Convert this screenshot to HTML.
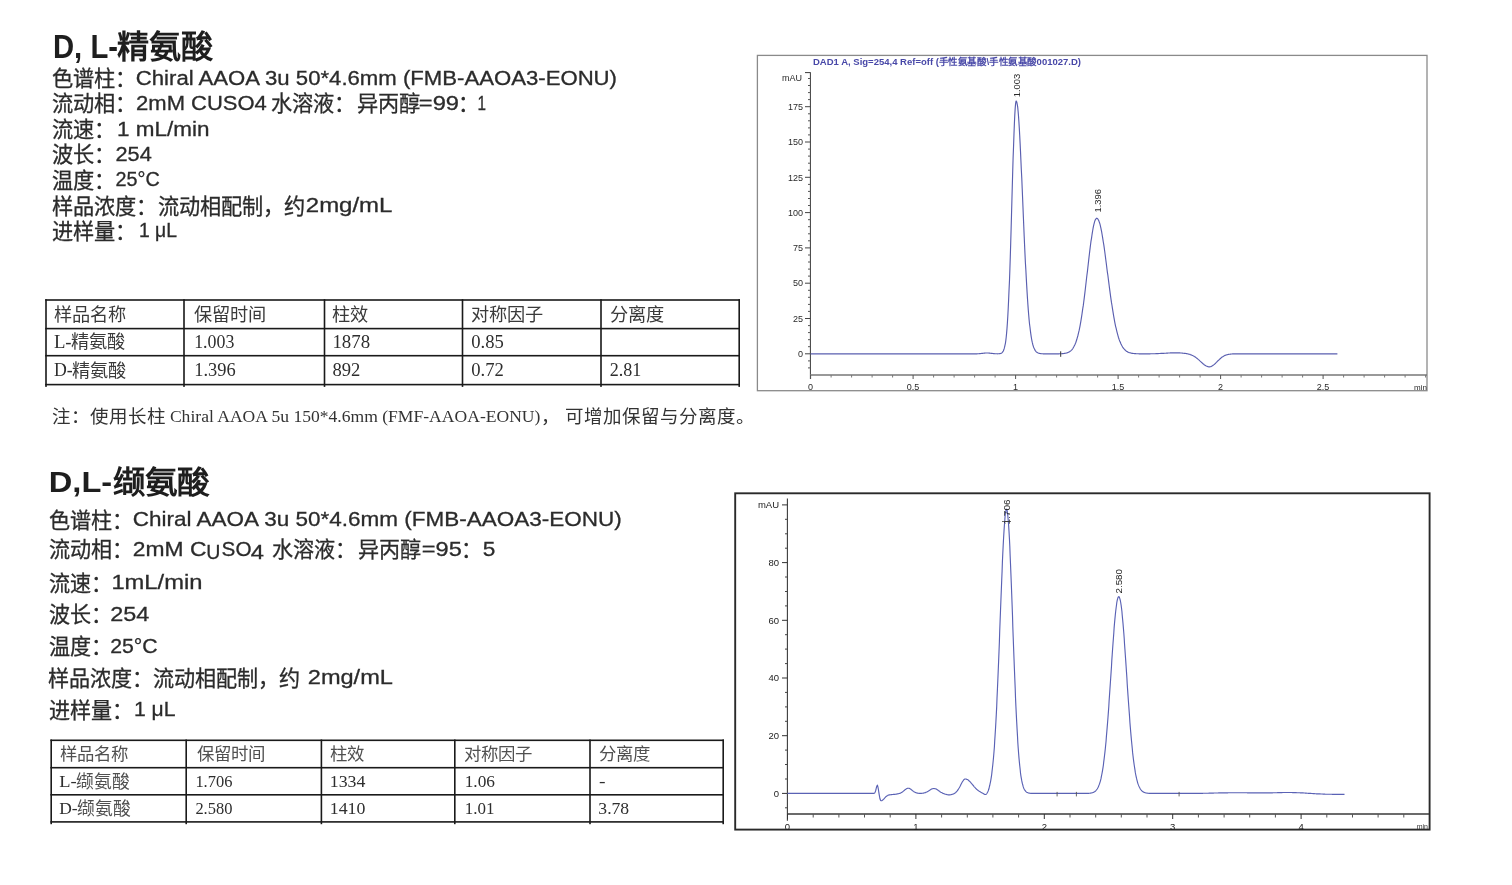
<!DOCTYPE html>
<html lang="zh-CN"><head><meta charset="utf-8">
<style>
html,body{margin:0;padding:0;background:#fff;}
body{width:1512px;height:885px;position:relative;overflow:hidden;}
svg{position:absolute;left:0;top:0;filter:blur(0.35px);}
</style></head><body>
<svg width="1512" height="885" viewBox="0 0 1512 885">
<rect x="757.4" y="55.4" width="669.6" height="335.3" fill="none" stroke="#8a8a8a" stroke-width="1.3"/>
<text x="813" y="65" font-size="9" font-weight="bold" fill="#4848a8" font-family="Liberation Sans" textLength="268" lengthAdjust="spacingAndGlyphs">DAD1 A, Sig=254,4 Ref=off (手性氨基酸\手性氨基酸001027.D)</text>
<line x1="810.4" y1="72.3" x2="810.4" y2="379" stroke="#3a3a3a" stroke-width="1"/>
<line x1="805" y1="72.6" x2="810.4" y2="72.6" stroke="#3a3a3a" stroke-width="1"/>
<line x1="810" y1="375" x2="1427" y2="375" stroke="#777" stroke-width="1.4"/>
<line x1="808" y1="367.9" x2="810.4" y2="367.9" stroke="#555" stroke-width="1"/>
<line x1="808" y1="360.9" x2="810.4" y2="360.9" stroke="#555" stroke-width="1"/>
<line x1="805" y1="353.8" x2="810.4" y2="353.8" stroke="#444" stroke-width="1"/>
<text x="803" y="357.0" font-size="9" fill="#2a2a2a" text-anchor="end" font-family="Liberation Sans">0</text>
<line x1="808" y1="346.7" x2="810.4" y2="346.7" stroke="#555" stroke-width="1"/>
<line x1="808" y1="339.7" x2="810.4" y2="339.7" stroke="#555" stroke-width="1"/>
<line x1="808" y1="332.6" x2="810.4" y2="332.6" stroke="#555" stroke-width="1"/>
<line x1="808" y1="325.6" x2="810.4" y2="325.6" stroke="#555" stroke-width="1"/>
<line x1="805" y1="318.5" x2="810.4" y2="318.5" stroke="#444" stroke-width="1"/>
<text x="803" y="321.7" font-size="9" fill="#2a2a2a" text-anchor="end" font-family="Liberation Sans">25</text>
<line x1="808" y1="311.4" x2="810.4" y2="311.4" stroke="#555" stroke-width="1"/>
<line x1="808" y1="304.4" x2="810.4" y2="304.4" stroke="#555" stroke-width="1"/>
<line x1="808" y1="297.3" x2="810.4" y2="297.3" stroke="#555" stroke-width="1"/>
<line x1="808" y1="290.3" x2="810.4" y2="290.3" stroke="#555" stroke-width="1"/>
<line x1="805" y1="283.2" x2="810.4" y2="283.2" stroke="#444" stroke-width="1"/>
<text x="803" y="286.4" font-size="9" fill="#2a2a2a" text-anchor="end" font-family="Liberation Sans">50</text>
<line x1="808" y1="276.1" x2="810.4" y2="276.1" stroke="#555" stroke-width="1"/>
<line x1="808" y1="269.1" x2="810.4" y2="269.1" stroke="#555" stroke-width="1"/>
<line x1="808" y1="262.0" x2="810.4" y2="262.0" stroke="#555" stroke-width="1"/>
<line x1="808" y1="255.0" x2="810.4" y2="255.0" stroke="#555" stroke-width="1"/>
<line x1="805" y1="247.9" x2="810.4" y2="247.9" stroke="#444" stroke-width="1"/>
<text x="803" y="251.1" font-size="9" fill="#2a2a2a" text-anchor="end" font-family="Liberation Sans">75</text>
<line x1="808" y1="240.8" x2="810.4" y2="240.8" stroke="#555" stroke-width="1"/>
<line x1="808" y1="233.8" x2="810.4" y2="233.8" stroke="#555" stroke-width="1"/>
<line x1="808" y1="226.7" x2="810.4" y2="226.7" stroke="#555" stroke-width="1"/>
<line x1="808" y1="219.7" x2="810.4" y2="219.7" stroke="#555" stroke-width="1"/>
<line x1="805" y1="212.6" x2="810.4" y2="212.6" stroke="#444" stroke-width="1"/>
<text x="803" y="215.8" font-size="9" fill="#2a2a2a" text-anchor="end" font-family="Liberation Sans">100</text>
<line x1="808" y1="205.5" x2="810.4" y2="205.5" stroke="#555" stroke-width="1"/>
<line x1="808" y1="198.5" x2="810.4" y2="198.5" stroke="#555" stroke-width="1"/>
<line x1="808" y1="191.4" x2="810.4" y2="191.4" stroke="#555" stroke-width="1"/>
<line x1="808" y1="184.4" x2="810.4" y2="184.4" stroke="#555" stroke-width="1"/>
<line x1="805" y1="177.3" x2="810.4" y2="177.3" stroke="#444" stroke-width="1"/>
<text x="803" y="180.5" font-size="9" fill="#2a2a2a" text-anchor="end" font-family="Liberation Sans">125</text>
<line x1="808" y1="170.2" x2="810.4" y2="170.2" stroke="#555" stroke-width="1"/>
<line x1="808" y1="163.2" x2="810.4" y2="163.2" stroke="#555" stroke-width="1"/>
<line x1="808" y1="156.1" x2="810.4" y2="156.1" stroke="#555" stroke-width="1"/>
<line x1="808" y1="149.1" x2="810.4" y2="149.1" stroke="#555" stroke-width="1"/>
<line x1="805" y1="142.0" x2="810.4" y2="142.0" stroke="#444" stroke-width="1"/>
<text x="803" y="145.2" font-size="9" fill="#2a2a2a" text-anchor="end" font-family="Liberation Sans">150</text>
<line x1="808" y1="134.9" x2="810.4" y2="134.9" stroke="#555" stroke-width="1"/>
<line x1="808" y1="127.9" x2="810.4" y2="127.9" stroke="#555" stroke-width="1"/>
<line x1="808" y1="120.8" x2="810.4" y2="120.8" stroke="#555" stroke-width="1"/>
<line x1="808" y1="113.8" x2="810.4" y2="113.8" stroke="#555" stroke-width="1"/>
<line x1="805" y1="106.7" x2="810.4" y2="106.7" stroke="#444" stroke-width="1"/>
<text x="803" y="109.9" font-size="9" fill="#2a2a2a" text-anchor="end" font-family="Liberation Sans">175</text>
<line x1="808" y1="99.6" x2="810.4" y2="99.6" stroke="#555" stroke-width="1"/>
<line x1="808" y1="92.6" x2="810.4" y2="92.6" stroke="#555" stroke-width="1"/>
<line x1="808" y1="85.5" x2="810.4" y2="85.5" stroke="#555" stroke-width="1"/>
<line x1="808" y1="78.5" x2="810.4" y2="78.5" stroke="#555" stroke-width="1"/>
<text x="802" y="81" font-size="9" fill="#2a2a2a" text-anchor="end" font-family="Liberation Sans">mAU</text>
<line x1="810.6" y1="375" x2="810.6" y2="379" stroke="#555" stroke-width="1"/>
<text x="810.6" y="389.5" font-size="9" fill="#2a2a2a" text-anchor="middle" font-family="Liberation Sans">0</text>
<line x1="831.1" y1="375" x2="831.1" y2="377.5" stroke="#777" stroke-width="1"/>
<line x1="851.6" y1="375" x2="851.6" y2="377.5" stroke="#777" stroke-width="1"/>
<line x1="872.1" y1="375" x2="872.1" y2="377.5" stroke="#777" stroke-width="1"/>
<line x1="892.6" y1="375" x2="892.6" y2="377.5" stroke="#777" stroke-width="1"/>
<line x1="913.1" y1="375" x2="913.1" y2="379" stroke="#555" stroke-width="1"/>
<text x="913.1" y="389.5" font-size="9" fill="#2a2a2a" text-anchor="middle" font-family="Liberation Sans">0.5</text>
<line x1="933.6" y1="375" x2="933.6" y2="377.5" stroke="#777" stroke-width="1"/>
<line x1="954.1" y1="375" x2="954.1" y2="377.5" stroke="#777" stroke-width="1"/>
<line x1="974.6" y1="375" x2="974.6" y2="377.5" stroke="#777" stroke-width="1"/>
<line x1="995.1" y1="375" x2="995.1" y2="377.5" stroke="#777" stroke-width="1"/>
<line x1="1015.6" y1="375" x2="1015.6" y2="379" stroke="#555" stroke-width="1"/>
<text x="1015.6" y="389.5" font-size="9" fill="#2a2a2a" text-anchor="middle" font-family="Liberation Sans">1</text>
<line x1="1036.1" y1="375" x2="1036.1" y2="377.5" stroke="#777" stroke-width="1"/>
<line x1="1056.6" y1="375" x2="1056.6" y2="377.5" stroke="#777" stroke-width="1"/>
<line x1="1077.1" y1="375" x2="1077.1" y2="377.5" stroke="#777" stroke-width="1"/>
<line x1="1097.6" y1="375" x2="1097.6" y2="377.5" stroke="#777" stroke-width="1"/>
<line x1="1118.1" y1="375" x2="1118.1" y2="379" stroke="#555" stroke-width="1"/>
<text x="1118.1" y="389.5" font-size="9" fill="#2a2a2a" text-anchor="middle" font-family="Liberation Sans">1.5</text>
<line x1="1138.6" y1="375" x2="1138.6" y2="377.5" stroke="#777" stroke-width="1"/>
<line x1="1159.1" y1="375" x2="1159.1" y2="377.5" stroke="#777" stroke-width="1"/>
<line x1="1179.6" y1="375" x2="1179.6" y2="377.5" stroke="#777" stroke-width="1"/>
<line x1="1200.1" y1="375" x2="1200.1" y2="377.5" stroke="#777" stroke-width="1"/>
<line x1="1220.6" y1="375" x2="1220.6" y2="379" stroke="#555" stroke-width="1"/>
<text x="1220.6" y="389.5" font-size="9" fill="#2a2a2a" text-anchor="middle" font-family="Liberation Sans">2</text>
<line x1="1241.1" y1="375" x2="1241.1" y2="377.5" stroke="#777" stroke-width="1"/>
<line x1="1261.6" y1="375" x2="1261.6" y2="377.5" stroke="#777" stroke-width="1"/>
<line x1="1282.1" y1="375" x2="1282.1" y2="377.5" stroke="#777" stroke-width="1"/>
<line x1="1302.6" y1="375" x2="1302.6" y2="377.5" stroke="#777" stroke-width="1"/>
<line x1="1323.1" y1="375" x2="1323.1" y2="379" stroke="#555" stroke-width="1"/>
<text x="1323.1" y="389.5" font-size="9" fill="#2a2a2a" text-anchor="middle" font-family="Liberation Sans">2.5</text>
<line x1="1343.6" y1="375" x2="1343.6" y2="377.5" stroke="#777" stroke-width="1"/>
<line x1="1364.1" y1="375" x2="1364.1" y2="377.5" stroke="#777" stroke-width="1"/>
<line x1="1384.6" y1="375" x2="1384.6" y2="377.5" stroke="#777" stroke-width="1"/>
<line x1="1405.1" y1="375" x2="1405.1" y2="377.5" stroke="#777" stroke-width="1"/>
<line x1="1425.6" y1="375" x2="1425.6" y2="377.5" stroke="#777" stroke-width="1"/>
<text x="1427" y="389.5" font-size="8" fill="#2a2a2a" text-anchor="end" font-family="Liberation Sans">min</text>
<path d="M810.6,353.8 L811.0,353.8 L811.4,353.8 L811.8,353.8 L812.2,353.8 L812.6,353.8 L813.1,353.8 L813.5,353.8 L813.9,353.8 L814.3,353.8 L814.7,353.8 L815.1,353.8 L815.5,353.8 L815.9,353.8 L816.3,353.8 L816.8,353.8 L817.2,353.8 L817.6,353.8 L818.0,353.8 L818.4,353.8 L818.8,353.8 L819.2,353.8 L819.6,353.8 L820.0,353.8 L820.4,353.8 L820.9,353.8 L821.3,353.8 L821.7,353.8 L822.1,353.8 L822.5,353.8 L822.9,353.8 L823.3,353.8 L823.7,353.8 L824.1,353.8 L824.5,353.8 L825.0,353.8 L825.4,353.8 L825.8,353.8 L826.2,353.8 L826.6,353.8 L827.0,353.8 L827.4,353.8 L827.8,353.8 L828.2,353.8 L828.6,353.8 L829.1,353.8 L829.5,353.8 L829.9,353.8 L830.3,353.8 L830.7,353.8 L831.1,353.8 L831.5,353.8 L831.9,353.8 L832.3,353.8 L832.7,353.8 L833.2,353.8 L833.6,353.8 L834.0,353.8 L834.4,353.8 L834.8,353.8 L835.2,353.8 L835.6,353.8 L836.0,353.8 L836.4,353.8 L836.8,353.8 L837.2,353.8 L837.7,353.8 L838.1,353.8 L838.5,353.8 L838.9,353.8 L839.3,353.8 L839.7,353.8 L840.1,353.8 L840.5,353.8 L840.9,353.8 L841.4,353.8 L841.8,353.8 L842.2,353.8 L842.6,353.8 L843.0,353.8 L843.4,353.8 L843.8,353.8 L844.2,353.8 L844.6,353.8 L845.0,353.8 L845.5,353.8 L845.9,353.8 L846.3,353.8 L846.7,353.8 L847.1,353.8 L847.5,353.8 L847.9,353.8 L848.3,353.8 L848.7,353.8 L849.1,353.8 L849.6,353.8 L850.0,353.8 L850.4,353.8 L850.8,353.8 L851.2,353.8 L851.6,353.8 L852.0,353.8 L852.4,353.8 L852.8,353.8 L853.2,353.8 L853.7,353.8 L854.1,353.8 L854.5,353.8 L854.9,353.8 L855.3,353.8 L855.7,353.8 L856.1,353.8 L856.5,353.8 L856.9,353.8 L857.3,353.8 L857.8,353.8 L858.2,353.8 L858.6,353.8 L859.0,353.8 L859.4,353.8 L859.8,353.8 L860.2,353.8 L860.6,353.8 L861.0,353.8 L861.4,353.8 L861.9,353.8 L862.3,353.8 L862.7,353.8 L863.1,353.8 L863.5,353.8 L863.9,353.8 L864.3,353.8 L864.7,353.8 L865.1,353.8 L865.5,353.8 L866.0,353.8 L866.4,353.8 L866.8,353.8 L867.2,353.8 L867.6,353.8 L868.0,353.8 L868.4,353.8 L868.8,353.8 L869.2,353.8 L869.6,353.8 L870.1,353.8 L870.5,353.8 L870.9,353.8 L871.3,353.8 L871.7,353.8 L872.1,353.8 L872.5,353.8 L872.9,353.8 L873.3,353.8 L873.7,353.8 L874.2,353.8 L874.6,353.8 L875.0,353.8 L875.4,353.8 L875.8,353.8 L876.2,353.8 L876.6,353.8 L877.0,353.8 L877.4,353.8 L877.8,353.8 L878.3,353.8 L878.7,353.8 L879.1,353.8 L879.5,353.8 L879.9,353.8 L880.3,353.8 L880.7,353.8 L881.1,353.8 L881.5,353.8 L881.9,353.8 L882.4,353.8 L882.8,353.8 L883.2,353.8 L883.6,353.8 L884.0,353.8 L884.4,353.8 L884.8,353.8 L885.2,353.8 L885.6,353.8 L886.0,353.8 L886.5,353.8 L886.9,353.8 L887.3,353.8 L887.7,353.8 L888.1,353.8 L888.5,353.8 L888.9,353.8 L889.3,353.8 L889.7,353.8 L890.1,353.8 L890.6,353.8 L891.0,353.8 L891.4,353.8 L891.8,353.8 L892.2,353.8 L892.6,353.8 L893.0,353.8 L893.4,353.8 L893.8,353.8 L894.2,353.8 L894.7,353.8 L895.1,353.8 L895.5,353.8 L895.9,353.8 L896.3,353.8 L896.7,353.8 L897.1,353.8 L897.5,353.8 L897.9,353.8 L898.3,353.8 L898.8,353.8 L899.2,353.8 L899.6,353.8 L900.0,353.8 L900.4,353.8 L900.8,353.8 L901.2,353.8 L901.6,353.8 L902.0,353.8 L902.4,353.8 L902.9,353.8 L903.3,353.8 L903.7,353.8 L904.1,353.8 L904.5,353.8 L904.9,353.8 L905.3,353.8 L905.7,353.8 L906.1,353.8 L906.5,353.8 L907.0,353.8 L907.4,353.8 L907.8,353.8 L908.2,353.8 L908.6,353.8 L909.0,353.8 L909.4,353.8 L909.8,353.8 L910.2,353.8 L910.6,353.8 L911.1,353.8 L911.5,353.8 L911.9,353.8 L912.3,353.8 L912.7,353.8 L913.1,353.8 L913.5,353.8 L913.9,353.8 L914.3,353.8 L914.7,353.8 L915.2,353.8 L915.6,353.8 L916.0,353.8 L916.4,353.8 L916.8,353.8 L917.2,353.8 L917.6,353.8 L918.0,353.8 L918.4,353.8 L918.8,353.8 L919.3,353.8 L919.7,353.8 L920.1,353.8 L920.5,353.8 L920.9,353.8 L921.3,353.8 L921.7,353.8 L922.1,353.8 L922.5,353.8 L922.9,353.8 L923.4,353.8 L923.8,353.8 L924.2,353.8 L924.6,353.8 L925.0,353.8 L925.4,353.8 L925.8,353.8 L926.2,353.8 L926.6,353.8 L927.0,353.8 L927.5,353.8 L927.9,353.8 L928.3,353.8 L928.7,353.8 L929.1,353.8 L929.5,353.8 L929.9,353.8 L930.3,353.8 L930.7,353.8 L931.1,353.8 L931.6,353.8 L932.0,353.8 L932.4,353.8 L932.8,353.8 L933.2,353.8 L933.6,353.8 L934.0,353.8 L934.4,353.8 L934.8,353.8 L935.2,353.8 L935.7,353.8 L936.1,353.8 L936.5,353.8 L936.9,353.8 L937.3,353.8 L937.7,353.8 L938.1,353.8 L938.5,353.8 L938.9,353.8 L939.3,353.8 L939.8,353.8 L940.2,353.8 L940.6,353.8 L941.0,353.8 L941.4,353.8 L941.8,353.8 L942.2,353.8 L942.6,353.8 L943.0,353.8 L943.4,353.8 L943.9,353.8 L944.3,353.8 L944.7,353.8 L945.1,353.8 L945.5,353.8 L945.9,353.8 L946.3,353.8 L946.7,353.8 L947.1,353.8 L947.5,353.8 L948.0,353.8 L948.4,353.8 L948.8,353.8 L949.2,353.8 L949.6,353.8 L950.0,353.8 L950.4,353.8 L950.8,353.8 L951.2,353.8 L951.6,353.8 L952.1,353.8 L952.5,353.8 L952.9,353.8 L953.3,353.8 L953.7,353.8 L954.1,353.8 L954.5,353.8 L954.9,353.8 L955.3,353.8 L955.7,353.8 L956.2,353.8 L956.6,353.8 L957.0,353.8 L957.4,353.8 L957.8,353.8 L958.2,353.8 L958.6,353.8 L959.0,353.8 L959.4,353.8 L959.8,353.8 L960.3,353.8 L960.7,353.8 L961.1,353.8 L961.5,353.8 L961.9,353.8 L962.3,353.8 L962.7,353.8 L963.1,353.8 L963.5,353.8 L963.9,353.8 L964.4,353.8 L964.8,353.8 L965.2,353.8 L965.6,353.8 L966.0,353.8 L966.4,353.8 L966.8,353.8 L967.2,353.8 L967.6,353.8 L968.0,353.8 L968.5,353.8 L968.9,353.8 L969.3,353.8 L969.7,353.8 L970.1,353.8 L970.5,353.8 L970.9,353.8 L971.3,353.8 L971.7,353.8 L972.1,353.8 L972.6,353.8 L973.0,353.8 L973.4,353.8 L973.8,353.8 L974.2,353.8 L974.6,353.8 L975.0,353.8 L975.4,353.8 L975.8,353.8 L976.2,353.8 L976.7,353.8 L977.1,353.8 L977.5,353.7 L977.9,353.7 L978.3,353.7 L978.7,353.7 L979.1,353.7 L979.5,353.6 L979.9,353.6 L980.3,353.6 L980.8,353.5 L981.2,353.5 L981.6,353.4 L982.0,353.4 L982.4,353.3 L982.8,353.3 L983.2,353.2 L983.6,353.2 L984.0,353.1 L984.4,353.1 L984.9,353.1 L985.3,353.0 L985.7,353.0 L986.1,353.0 L986.5,353.0 L986.9,353.0 L987.3,353.0 L987.7,353.0 L988.1,353.0 L988.5,353.0 L989.0,353.1 L989.4,353.1 L989.8,353.1 L990.2,353.2 L990.6,353.2 L991.0,353.3 L991.4,353.3 L991.8,353.4 L992.2,353.4 L992.6,353.5 L993.1,353.5 L993.5,353.6 L993.9,353.6 L994.3,353.6 L994.7,353.7 L995.1,353.7 L995.5,353.7 L995.9,353.7 L996.3,353.7 L996.7,353.7 L997.2,353.7 L997.6,353.8 L998.0,353.7 L998.4,353.7 L998.8,353.7 L999.2,353.7 L999.6,353.6 L1000.0,353.6 L1000.4,353.5 L1000.8,353.4 L1001.3,353.2 L1001.7,353.0 L1002.1,352.7 L1002.5,352.2 L1002.9,351.7 L1003.3,351.0 L1003.7,350.1 L1004.1,348.9 L1004.5,347.4 L1004.9,345.6 L1005.4,343.3 L1005.8,340.6 L1006.2,337.2 L1006.6,333.1 L1007.0,328.4 L1007.4,322.7 L1007.8,316.2 L1008.2,308.7 L1008.6,300.3 L1009.0,290.8 L1009.5,280.3 L1009.9,268.8 L1010.3,256.4 L1010.7,243.2 L1011.1,229.4 L1011.5,215.1 L1011.9,200.5 L1012.3,185.9 L1012.7,171.7 L1013.1,158.0 L1013.6,145.1 L1014.0,133.5 L1014.4,123.2 L1014.8,114.7 L1015.2,108.1 L1015.6,103.6 L1016.0,101.3 L1016.4,101.2 L1016.8,102.2 L1017.2,104.2 L1017.7,107.2 L1018.1,111.2 L1018.5,116.0 L1018.9,121.7 L1019.3,128.1 L1019.7,135.3 L1020.1,143.1 L1020.5,151.4 L1020.9,160.2 L1021.3,169.3 L1021.8,178.8 L1022.2,188.4 L1022.6,198.1 L1023.0,207.8 L1023.4,217.5 L1023.8,227.0 L1024.2,236.4 L1024.6,245.5 L1025.0,254.2 L1025.4,262.7 L1025.9,270.8 L1026.3,278.4 L1026.7,285.6 L1027.1,292.4 L1027.5,298.8 L1027.9,304.6 L1028.3,310.1 L1028.7,315.0 L1029.1,319.6 L1029.5,323.7 L1030.0,327.5 L1030.4,330.9 L1030.8,333.9 L1031.2,336.6 L1031.6,339.0 L1032.0,341.1 L1032.4,342.9 L1032.8,344.5 L1033.2,345.9 L1033.6,347.2 L1034.1,348.2 L1034.5,349.1 L1034.9,349.9 L1035.3,350.6 L1035.7,351.1 L1036.1,351.6 L1036.5,352.0 L1036.9,352.3 L1037.3,352.6 L1037.7,352.8 L1038.2,353.0 L1038.6,353.2 L1039.0,353.3 L1039.4,353.4 L1039.8,353.5 L1040.2,353.5 L1040.6,353.6 L1041.0,353.6 L1041.4,353.7 L1041.8,353.7 L1042.3,353.7 L1042.7,353.7 L1043.1,353.8 L1043.5,353.8 L1043.9,353.8 L1044.3,353.8 L1044.7,353.8 L1045.1,353.8 L1045.5,353.8 L1045.9,353.8 L1046.4,353.8 L1046.8,353.8 L1047.2,353.8 L1047.6,353.8 L1048.0,353.8 L1048.4,353.8 L1048.8,353.8 L1049.2,353.8 L1049.6,353.8 L1050.0,353.8 L1050.5,353.8 L1050.9,353.8 L1051.3,353.8 L1051.7,353.8 L1052.1,353.8 L1052.5,353.8 L1052.9,353.8 L1053.3,353.8 L1053.7,353.8 L1054.1,353.8 L1054.6,353.8 L1055.0,353.8 L1055.4,353.8 L1055.8,353.8 L1056.2,353.8 L1056.6,353.8 L1057.0,353.8 L1057.4,353.8 L1057.8,353.8 L1058.2,353.8 L1058.7,353.8 L1059.1,353.8 L1059.5,353.7 L1059.9,353.7 L1060.3,353.7 L1060.7,353.7 L1061.1,353.7 L1061.5,353.7 L1061.9,353.7 L1062.3,353.6 L1062.8,353.6 L1063.2,353.6 L1063.6,353.5 L1064.0,353.5 L1064.4,353.4 L1064.8,353.4 L1065.2,353.3 L1065.6,353.2 L1066.0,353.1 L1066.4,353.0 L1066.9,352.9 L1067.3,352.8 L1067.7,352.6 L1068.1,352.5 L1068.5,352.3 L1068.9,352.1 L1069.3,351.9 L1069.7,351.6 L1070.1,351.3 L1070.5,351.0 L1071.0,350.6 L1071.4,350.2 L1071.8,349.8 L1072.2,349.3 L1072.6,348.8 L1073.0,348.2 L1073.4,347.5 L1073.8,346.8 L1074.2,346.0 L1074.6,345.2 L1075.1,344.3 L1075.5,343.3 L1075.9,342.2 L1076.3,341.0 L1076.7,339.8 L1077.1,338.4 L1077.5,337.0 L1077.9,335.5 L1078.3,333.8 L1078.7,332.1 L1079.2,330.2 L1079.6,328.2 L1080.0,326.1 L1080.4,323.9 L1080.8,321.6 L1081.2,319.2 L1081.6,316.6 L1082.0,314.0 L1082.4,311.2 L1082.8,308.3 L1083.3,305.4 L1083.7,302.3 L1084.1,299.1 L1084.5,295.9 L1084.9,292.6 L1085.3,289.2 L1085.7,285.7 L1086.1,282.2 L1086.5,278.7 L1086.9,275.2 L1087.4,271.6 L1087.8,268.0 L1088.2,264.5 L1088.6,260.9 L1089.0,257.4 L1089.4,254.0 L1089.8,250.6 L1090.2,247.4 L1090.6,244.2 L1091.0,241.2 L1091.5,238.3 L1091.9,235.5 L1092.3,232.9 L1092.7,230.5 L1093.1,228.2 L1093.5,226.2 L1093.9,224.4 L1094.3,222.8 L1094.7,221.4 L1095.1,220.3 L1095.6,219.4 L1096.0,218.8 L1096.4,218.4 L1096.8,218.2 L1097.2,218.4 L1097.6,218.7 L1098.0,219.2 L1098.4,219.9 L1098.8,220.8 L1099.2,221.9 L1099.7,223.2 L1100.1,224.6 L1100.5,226.3 L1100.9,228.1 L1101.3,230.1 L1101.7,232.2 L1102.1,234.5 L1102.5,236.9 L1102.9,239.4 L1103.3,242.0 L1103.8,244.8 L1104.2,247.6 L1104.6,250.5 L1105.0,253.5 L1105.4,256.6 L1105.8,259.7 L1106.2,262.8 L1106.6,266.0 L1107.0,269.2 L1107.4,272.3 L1107.9,275.5 L1108.3,278.7 L1108.7,281.9 L1109.1,285.0 L1109.5,288.1 L1109.9,291.1 L1110.3,294.1 L1110.7,297.1 L1111.1,299.9 L1111.5,302.7 L1112.0,305.5 L1112.4,308.1 L1112.8,310.7 L1113.2,313.2 L1113.6,315.6 L1114.0,317.9 L1114.4,320.1 L1114.8,322.3 L1115.2,324.3 L1115.6,326.3 L1116.1,328.1 L1116.5,329.9 L1116.9,331.6 L1117.3,333.2 L1117.7,334.7 L1118.1,336.1 L1118.5,337.5 L1118.9,338.7 L1119.3,339.9 L1119.7,341.0 L1120.2,342.1 L1120.6,343.1 L1121.0,344.0 L1121.4,344.8 L1121.8,345.6 L1122.2,346.3 L1122.6,347.0 L1123.0,347.6 L1123.4,348.2 L1123.8,348.7 L1124.3,349.2 L1124.7,349.6 L1125.1,350.0 L1125.5,350.4 L1125.9,350.8 L1126.3,351.1 L1126.7,351.4 L1127.1,351.6 L1127.5,351.8 L1127.9,352.1 L1128.4,352.2 L1128.8,352.4 L1129.2,352.6 L1129.6,352.7 L1130.0,352.8 L1130.4,352.9 L1130.8,353.0 L1131.2,353.1 L1131.6,353.2 L1132.0,353.3 L1132.5,353.3 L1132.9,353.4 L1133.3,353.5 L1133.7,353.5 L1134.1,353.5 L1134.5,353.6 L1134.9,353.6 L1135.3,353.6 L1135.7,353.6 L1136.1,353.7 L1136.6,353.7 L1137.0,353.7 L1137.4,353.7 L1137.8,353.7 L1138.2,353.7 L1138.6,353.7 L1139.0,353.8 L1139.4,353.8 L1139.8,353.8 L1140.2,353.8 L1140.7,353.8 L1141.1,353.8 L1141.5,353.8 L1141.9,353.8 L1142.3,353.8 L1142.7,353.8 L1143.1,353.8 L1143.5,353.8 L1143.9,353.8 L1144.3,353.8 L1144.8,353.8 L1145.2,353.8 L1145.6,353.8 L1146.0,353.8 L1146.4,353.8 L1146.8,353.8 L1147.2,353.8 L1147.6,353.8 L1148.0,353.8 L1148.4,353.8 L1148.9,353.8 L1149.3,353.8 L1149.7,353.8 L1150.1,353.8 L1150.5,353.7 L1150.9,353.7 L1151.3,353.7 L1151.7,353.7 L1152.1,353.7 L1152.5,353.7 L1153.0,353.7 L1153.4,353.7 L1153.8,353.7 L1154.2,353.7 L1154.6,353.7 L1155.0,353.7 L1155.4,353.7 L1155.8,353.6 L1156.2,353.6 L1156.6,353.6 L1157.1,353.6 L1157.5,353.6 L1157.9,353.6 L1158.3,353.6 L1158.7,353.5 L1159.1,353.5 L1159.5,353.5 L1159.9,353.5 L1160.3,353.5 L1160.7,353.4 L1161.2,353.4 L1161.6,353.4 L1162.0,353.4 L1162.4,353.4 L1162.8,353.3 L1163.2,353.3 L1163.6,353.3 L1164.0,353.3 L1164.4,353.2 L1164.8,353.2 L1165.3,353.2 L1165.7,353.2 L1166.1,353.2 L1166.5,353.1 L1166.9,353.1 L1167.3,353.1 L1167.7,353.1 L1168.1,353.0 L1168.5,353.0 L1168.9,353.0 L1169.4,353.0 L1169.8,353.0 L1170.2,352.9 L1170.6,352.9 L1171.0,352.9 L1171.4,352.9 L1171.8,352.9 L1172.2,352.9 L1172.6,352.9 L1173.0,352.8 L1173.5,352.8 L1173.9,352.8 L1174.3,352.8 L1174.7,352.8 L1175.1,352.8 L1175.5,352.8 L1175.9,352.8 L1176.3,352.8 L1176.7,352.8 L1177.1,352.8 L1177.6,352.8 L1178.0,352.9 L1178.4,352.9 L1178.8,352.9 L1179.2,352.9 L1179.6,352.9 L1180.0,352.9 L1180.4,353.0 L1180.8,353.0 L1181.2,353.0 L1181.7,353.0 L1182.1,353.1 L1182.5,353.1 L1182.9,353.2 L1183.3,353.2 L1183.7,353.2 L1184.1,353.3 L1184.5,353.3 L1184.9,353.4 L1185.3,353.4 L1185.8,353.5 L1186.2,353.6 L1186.6,353.6 L1187.0,353.7 L1187.4,353.8 L1187.8,353.9 L1188.2,354.0 L1188.6,354.1 L1189.0,354.2 L1189.4,354.3 L1189.9,354.4 L1190.3,354.6 L1190.7,354.7 L1191.1,354.9 L1191.5,355.0 L1191.9,355.2 L1192.3,355.4 L1192.7,355.6 L1193.1,355.8 L1193.5,356.0 L1194.0,356.2 L1194.4,356.5 L1194.8,356.7 L1195.2,357.0 L1195.6,357.3 L1196.0,357.6 L1196.4,357.9 L1196.8,358.2 L1197.2,358.5 L1197.6,358.9 L1198.1,359.2 L1198.5,359.6 L1198.9,359.9 L1199.3,360.3 L1199.7,360.7 L1200.1,361.1 L1200.5,361.4 L1200.9,361.8 L1201.3,362.2 L1201.7,362.6 L1202.2,362.9 L1202.6,363.3 L1203.0,363.7 L1203.4,364.0 L1203.8,364.3 L1204.2,364.7 L1204.6,365.0 L1205.0,365.2 L1205.4,365.5 L1205.8,365.8 L1206.3,366.0 L1206.7,366.2 L1207.1,366.3 L1207.5,366.5 L1207.9,366.6 L1208.3,366.7 L1208.7,366.8 L1209.1,366.8 L1209.5,366.8 L1209.9,366.7 L1210.4,366.7 L1210.8,366.6 L1211.2,366.4 L1211.6,366.2 L1212.0,366.0 L1212.4,365.8 L1212.8,365.5 L1213.2,365.2 L1213.6,364.9 L1214.0,364.6 L1214.5,364.2 L1214.9,363.9 L1215.3,363.5 L1215.7,363.1 L1216.1,362.7 L1216.5,362.3 L1216.9,361.8 L1217.3,361.4 L1217.7,361.0 L1218.1,360.6 L1218.6,360.2 L1219.0,359.8 L1219.4,359.4 L1219.8,359.0 L1220.2,358.7 L1220.6,358.3 L1221.0,358.0 L1221.4,357.6 L1221.8,357.3 L1222.2,357.0 L1222.7,356.8 L1223.1,356.5 L1223.5,356.3 L1223.9,356.0 L1224.3,355.8 L1224.7,355.6 L1225.1,355.4 L1225.5,355.3 L1225.9,355.1 L1226.3,355.0 L1226.7,354.8 L1227.2,354.7 L1227.6,354.6 L1228.0,354.5 L1228.4,354.4 L1228.8,354.4 L1229.2,354.3 L1229.6,354.2 L1230.0,354.2 L1230.4,354.1 L1230.8,354.1 L1231.3,354.0 L1231.7,354.0 L1232.1,354.0 L1232.5,353.9 L1232.9,353.9 L1233.3,353.9 L1233.7,353.9 L1234.1,353.9 L1234.5,353.9 L1234.9,353.9 L1235.4,353.8 L1235.8,353.8 L1236.2,353.8 L1236.6,353.8 L1237.0,353.8 L1237.4,353.8 L1237.8,353.8 L1238.2,353.8 L1238.6,353.8 L1239.0,353.8 L1239.5,353.8 L1239.9,353.8 L1240.3,353.8 L1240.7,353.8 L1241.1,353.8 L1241.5,353.8 L1241.9,353.8 L1242.3,353.8 L1242.7,353.8 L1243.1,353.8 L1243.6,353.8 L1244.0,353.8 L1244.4,353.8 L1244.8,353.8 L1245.2,353.8 L1245.6,353.8 L1246.0,353.8 L1246.4,353.8 L1246.8,353.8 L1247.2,353.8 L1247.7,353.8 L1248.1,353.8 L1248.5,353.8 L1248.9,353.8 L1249.3,353.8 L1249.7,353.8 L1250.1,353.8 L1250.5,353.8 L1250.9,353.8 L1251.3,353.8 L1251.8,353.8 L1252.2,353.8 L1252.6,353.8 L1253.0,353.8 L1253.4,353.8 L1253.8,353.8 L1254.2,353.8 L1254.6,353.8 L1255.0,353.8 L1255.4,353.8 L1255.9,353.8 L1256.3,353.8 L1256.7,353.8 L1257.1,353.8 L1257.5,353.8 L1257.9,353.8 L1258.3,353.8 L1258.7,353.8 L1259.1,353.8 L1259.5,353.8 L1260.0,353.8 L1260.4,353.8 L1260.8,353.8 L1261.2,353.8 L1261.6,353.8 L1262.0,353.8 L1262.4,353.8 L1262.8,353.8 L1263.2,353.8 L1263.6,353.8 L1264.1,353.8 L1264.5,353.8 L1264.9,353.8 L1265.3,353.8 L1265.7,353.8 L1266.1,353.8 L1266.5,353.8 L1266.9,353.8 L1267.3,353.8 L1267.7,353.8 L1268.2,353.8 L1268.6,353.8 L1269.0,353.8 L1269.4,353.8 L1269.8,353.8 L1270.2,353.8 L1270.6,353.8 L1271.0,353.8 L1271.4,353.8 L1271.8,353.8 L1272.3,353.8 L1272.7,353.8 L1273.1,353.8 L1273.5,353.8 L1273.9,353.8 L1274.3,353.8 L1274.7,353.8 L1275.1,353.8 L1275.5,353.8 L1275.9,353.8 L1276.4,353.8 L1276.8,353.8 L1277.2,353.8 L1277.6,353.8 L1278.0,353.8 L1278.4,353.8 L1278.8,353.8 L1279.2,353.8 L1279.6,353.8 L1280.0,353.8 L1280.5,353.8 L1280.9,353.8 L1281.3,353.8 L1281.7,353.8 L1282.1,353.8 L1282.5,353.8 L1282.9,353.8 L1283.3,353.8 L1283.7,353.8 L1284.1,353.8 L1284.6,353.8 L1285.0,353.8 L1285.4,353.8 L1285.8,353.8 L1286.2,353.8 L1286.6,353.8 L1287.0,353.8 L1287.4,353.8 L1287.8,353.8 L1288.2,353.8 L1288.7,353.8 L1289.1,353.8 L1289.5,353.8 L1289.9,353.8 L1290.3,353.8 L1290.7,353.8 L1291.1,353.8 L1291.5,353.8 L1291.9,353.8 L1292.3,353.8 L1292.8,353.8 L1293.2,353.8 L1293.6,353.8 L1294.0,353.8 L1294.4,353.8 L1294.8,353.8 L1295.2,353.8 L1295.6,353.8 L1296.0,353.8 L1296.4,353.8 L1296.9,353.8 L1297.3,353.8 L1297.7,353.8 L1298.1,353.8 L1298.5,353.8 L1298.9,353.8 L1299.3,353.8 L1299.7,353.8 L1300.1,353.8 L1300.5,353.8 L1301.0,353.8 L1301.4,353.8 L1301.8,353.8 L1302.2,353.8 L1302.6,353.8 L1303.0,353.8 L1303.4,353.8 L1303.8,353.8 L1304.2,353.8 L1304.6,353.8 L1305.1,353.8 L1305.5,353.8 L1305.9,353.8 L1306.3,353.8 L1306.7,353.8 L1307.1,353.8 L1307.5,353.8 L1307.9,353.8 L1308.3,353.8 L1308.7,353.8 L1309.2,353.8 L1309.6,353.8 L1310.0,353.8 L1310.4,353.8 L1310.8,353.8 L1311.2,353.8 L1311.6,353.8 L1312.0,353.8 L1312.4,353.8 L1312.8,353.8 L1313.3,353.8 L1313.7,353.8 L1314.1,353.8 L1314.5,353.8 L1314.9,353.8 L1315.3,353.8 L1315.7,353.8 L1316.1,353.8 L1316.5,353.8 L1316.9,353.8 L1317.4,353.8 L1317.8,353.8 L1318.2,353.8 L1318.6,353.8 L1319.0,353.8 L1319.4,353.8 L1319.8,353.8 L1320.2,353.8 L1320.6,353.8 L1321.0,353.8 L1321.5,353.8 L1321.9,353.8 L1322.3,353.8 L1322.7,353.8 L1323.1,353.8 L1323.5,353.8 L1323.9,353.8 L1324.3,353.8 L1324.7,353.8 L1325.1,353.8 L1325.6,353.8 L1326.0,353.8 L1326.4,353.8 L1326.8,353.8 L1327.2,353.8 L1327.6,353.8 L1328.0,353.8 L1328.4,353.8 L1328.8,353.8 L1329.2,353.8 L1329.7,353.8 L1330.1,353.8 L1330.5,353.8 L1330.9,353.8 L1331.3,353.8 L1331.7,353.8 L1332.1,353.8 L1332.5,353.8 L1332.9,353.8 L1333.3,353.8 L1333.8,353.8 L1334.2,353.8 L1334.6,353.8 L1335.0,353.8 L1335.4,353.8 L1335.8,353.8 L1336.2,353.8 L1336.6,353.8 L1337.0,353.8 L1337.4,353.8" fill="none" stroke="#5a5fb0" stroke-width="1.15"/>
<line x1="1060.7" y1="351.3" x2="1060.7" y2="356.8" stroke="#333" stroke-width="1"/>
<text transform="translate(1020.2,97.3) rotate(-90)" font-size="9" fill="#2a2a2a" font-family="Liberation Sans" textLength="23.5" lengthAdjust="spacingAndGlyphs">1.003</text>
<text transform="translate(1100.5,212.5) rotate(-90)" font-size="9" fill="#2a2a2a" font-family="Liberation Sans" textLength="23.5" lengthAdjust="spacingAndGlyphs">1.396</text>
<rect x="735.2" y="493.3" width="694.4" height="336.3" fill="none" stroke="#2a2a2a" stroke-width="1.9"/>
<line x1="787.4" y1="498.6" x2="787.4" y2="820.7" stroke="#3a3a3a" stroke-width="1.1"/>
<line x1="787.4" y1="814" x2="1429" y2="814" stroke="#3a3a3a" stroke-width="1.3"/>
<line x1="785" y1="807.8" x2="787.4" y2="807.8" stroke="#444" stroke-width="1"/>
<line x1="782" y1="793.4" x2="787.4" y2="793.4" stroke="#333" stroke-width="1"/>
<text x="779" y="796.7" font-size="9.5" fill="#222" text-anchor="end" font-family="Liberation Sans">0</text>
<line x1="785" y1="779.0" x2="787.4" y2="779.0" stroke="#444" stroke-width="1"/>
<line x1="785" y1="764.5" x2="787.4" y2="764.5" stroke="#444" stroke-width="1"/>
<line x1="785" y1="750.1" x2="787.4" y2="750.1" stroke="#444" stroke-width="1"/>
<line x1="782" y1="735.7" x2="787.4" y2="735.7" stroke="#333" stroke-width="1"/>
<text x="779" y="739.0" font-size="9.5" fill="#222" text-anchor="end" font-family="Liberation Sans">20</text>
<line x1="785" y1="721.3" x2="787.4" y2="721.3" stroke="#444" stroke-width="1"/>
<line x1="785" y1="706.9" x2="787.4" y2="706.9" stroke="#444" stroke-width="1"/>
<line x1="785" y1="692.4" x2="787.4" y2="692.4" stroke="#444" stroke-width="1"/>
<line x1="782" y1="678.0" x2="787.4" y2="678.0" stroke="#333" stroke-width="1"/>
<text x="779" y="681.3" font-size="9.5" fill="#222" text-anchor="end" font-family="Liberation Sans">40</text>
<line x1="785" y1="663.6" x2="787.4" y2="663.6" stroke="#444" stroke-width="1"/>
<line x1="785" y1="649.1" x2="787.4" y2="649.1" stroke="#444" stroke-width="1"/>
<line x1="785" y1="634.7" x2="787.4" y2="634.7" stroke="#444" stroke-width="1"/>
<line x1="782" y1="620.3" x2="787.4" y2="620.3" stroke="#333" stroke-width="1"/>
<text x="779" y="623.6" font-size="9.5" fill="#222" text-anchor="end" font-family="Liberation Sans">60</text>
<line x1="785" y1="605.9" x2="787.4" y2="605.9" stroke="#444" stroke-width="1"/>
<line x1="785" y1="591.5" x2="787.4" y2="591.5" stroke="#444" stroke-width="1"/>
<line x1="785" y1="577.0" x2="787.4" y2="577.0" stroke="#444" stroke-width="1"/>
<line x1="782" y1="562.6" x2="787.4" y2="562.6" stroke="#333" stroke-width="1"/>
<text x="779" y="565.9" font-size="9.5" fill="#222" text-anchor="end" font-family="Liberation Sans">80</text>
<line x1="785" y1="548.2" x2="787.4" y2="548.2" stroke="#444" stroke-width="1"/>
<line x1="785" y1="533.8" x2="787.4" y2="533.8" stroke="#444" stroke-width="1"/>
<line x1="785" y1="519.3" x2="787.4" y2="519.3" stroke="#444" stroke-width="1"/>
<line x1="782" y1="504.9" x2="787.4" y2="504.9" stroke="#333" stroke-width="1"/>
<text x="779" y="508.2" font-size="9.5" fill="#222" text-anchor="end" font-family="Liberation Sans">mAU</text>
<line x1="787.5" y1="814" x2="787.5" y2="819" stroke="#333" stroke-width="1"/>
<text x="787.5" y="830" font-size="9.5" fill="#222" text-anchor="middle" font-family="Liberation Sans">0</text>
<line x1="813.2" y1="814" x2="813.2" y2="817.5" stroke="#555" stroke-width="1"/>
<line x1="838.9" y1="814" x2="838.9" y2="817.5" stroke="#555" stroke-width="1"/>
<line x1="864.5" y1="814" x2="864.5" y2="817.5" stroke="#555" stroke-width="1"/>
<line x1="890.2" y1="814" x2="890.2" y2="817.5" stroke="#555" stroke-width="1"/>
<line x1="915.9" y1="814" x2="915.9" y2="819" stroke="#333" stroke-width="1"/>
<text x="915.9" y="830" font-size="9.5" fill="#222" text-anchor="middle" font-family="Liberation Sans">1</text>
<line x1="941.6" y1="814" x2="941.6" y2="817.5" stroke="#555" stroke-width="1"/>
<line x1="967.3" y1="814" x2="967.3" y2="817.5" stroke="#555" stroke-width="1"/>
<line x1="992.9" y1="814" x2="992.9" y2="817.5" stroke="#555" stroke-width="1"/>
<line x1="1018.6" y1="814" x2="1018.6" y2="817.5" stroke="#555" stroke-width="1"/>
<line x1="1044.3" y1="814" x2="1044.3" y2="819" stroke="#333" stroke-width="1"/>
<text x="1044.3" y="830" font-size="9.5" fill="#222" text-anchor="middle" font-family="Liberation Sans">2</text>
<line x1="1070.0" y1="814" x2="1070.0" y2="817.5" stroke="#555" stroke-width="1"/>
<line x1="1095.7" y1="814" x2="1095.7" y2="817.5" stroke="#555" stroke-width="1"/>
<line x1="1121.3" y1="814" x2="1121.3" y2="817.5" stroke="#555" stroke-width="1"/>
<line x1="1147.0" y1="814" x2="1147.0" y2="817.5" stroke="#555" stroke-width="1"/>
<line x1="1172.7" y1="814" x2="1172.7" y2="819" stroke="#333" stroke-width="1"/>
<text x="1172.7" y="830" font-size="9.5" fill="#222" text-anchor="middle" font-family="Liberation Sans">3</text>
<line x1="1198.4" y1="814" x2="1198.4" y2="817.5" stroke="#555" stroke-width="1"/>
<line x1="1224.1" y1="814" x2="1224.1" y2="817.5" stroke="#555" stroke-width="1"/>
<line x1="1249.7" y1="814" x2="1249.7" y2="817.5" stroke="#555" stroke-width="1"/>
<line x1="1275.4" y1="814" x2="1275.4" y2="817.5" stroke="#555" stroke-width="1"/>
<line x1="1301.1" y1="814" x2="1301.1" y2="819" stroke="#333" stroke-width="1"/>
<text x="1301.1" y="830" font-size="9.5" fill="#222" text-anchor="middle" font-family="Liberation Sans">4</text>
<line x1="1326.8" y1="814" x2="1326.8" y2="817.5" stroke="#555" stroke-width="1"/>
<line x1="1352.5" y1="814" x2="1352.5" y2="817.5" stroke="#555" stroke-width="1"/>
<line x1="1378.1" y1="814" x2="1378.1" y2="817.5" stroke="#555" stroke-width="1"/>
<line x1="1403.8" y1="814" x2="1403.8" y2="817.5" stroke="#555" stroke-width="1"/>
<text x="1428" y="828.5" font-size="7" fill="#333" text-anchor="end" font-family="Liberation Sans">min</text>
<path d="M787.5,793.4 L787.9,793.4 L788.3,793.4 L788.7,793.4 L789.0,793.4 L789.4,793.4 L789.8,793.4 L790.2,793.4 L790.6,793.4 L791.0,793.4 L791.4,793.4 L791.7,793.4 L792.1,793.4 L792.5,793.4 L792.9,793.4 L793.3,793.4 L793.7,793.4 L794.0,793.4 L794.4,793.4 L794.8,793.4 L795.2,793.4 L795.6,793.4 L796.0,793.4 L796.4,793.4 L796.7,793.4 L797.1,793.4 L797.5,793.4 L797.9,793.4 L798.3,793.4 L798.7,793.4 L799.1,793.4 L799.4,793.4 L799.8,793.4 L800.2,793.4 L800.6,793.4 L801.0,793.4 L801.4,793.4 L801.8,793.4 L802.1,793.4 L802.5,793.4 L802.9,793.4 L803.3,793.4 L803.7,793.4 L804.1,793.4 L804.4,793.4 L804.8,793.4 L805.2,793.4 L805.6,793.4 L806.0,793.4 L806.4,793.4 L806.8,793.4 L807.1,793.4 L807.5,793.4 L807.9,793.4 L808.3,793.4 L808.7,793.4 L809.1,793.4 L809.5,793.4 L809.8,793.4 L810.2,793.4 L810.6,793.4 L811.0,793.4 L811.4,793.4 L811.8,793.4 L812.2,793.4 L812.5,793.4 L812.9,793.4 L813.3,793.4 L813.7,793.4 L814.1,793.4 L814.5,793.4 L814.8,793.4 L815.2,793.4 L815.6,793.4 L816.0,793.4 L816.4,793.4 L816.8,793.4 L817.2,793.4 L817.5,793.4 L817.9,793.4 L818.3,793.4 L818.7,793.4 L819.1,793.4 L819.5,793.4 L819.9,793.4 L820.2,793.4 L820.6,793.4 L821.0,793.4 L821.4,793.4 L821.8,793.4 L822.2,793.4 L822.6,793.4 L822.9,793.4 L823.3,793.4 L823.7,793.4 L824.1,793.4 L824.5,793.4 L824.9,793.4 L825.2,793.4 L825.6,793.4 L826.0,793.4 L826.4,793.4 L826.8,793.4 L827.2,793.4 L827.6,793.4 L827.9,793.4 L828.3,793.4 L828.7,793.4 L829.1,793.4 L829.5,793.4 L829.9,793.4 L830.3,793.4 L830.6,793.4 L831.0,793.4 L831.4,793.4 L831.8,793.4 L832.2,793.4 L832.6,793.4 L833.0,793.4 L833.3,793.4 L833.7,793.4 L834.1,793.4 L834.5,793.4 L834.9,793.4 L835.3,793.4 L835.7,793.4 L836.0,793.4 L836.4,793.4 L836.8,793.4 L837.2,793.4 L837.6,793.4 L838.0,793.4 L838.3,793.4 L838.7,793.4 L839.1,793.4 L839.5,793.4 L839.9,793.4 L840.3,793.4 L840.7,793.4 L841.0,793.4 L841.4,793.4 L841.8,793.4 L842.2,793.4 L842.6,793.4 L843.0,793.4 L843.4,793.4 L843.7,793.4 L844.1,793.4 L844.5,793.4 L844.9,793.4 L845.3,793.4 L845.7,793.4 L846.1,793.4 L846.4,793.4 L846.8,793.4 L847.2,793.4 L847.6,793.4 L848.0,793.4 L848.4,793.4 L848.7,793.4 L849.1,793.4 L849.5,793.4 L849.9,793.4 L850.3,793.4 L850.7,793.4 L851.1,793.4 L851.4,793.4 L851.8,793.4 L852.2,793.4 L852.6,793.4 L853.0,793.4 L853.4,793.4 L853.8,793.4 L854.1,793.4 L854.5,793.4 L854.9,793.4 L855.3,793.4 L855.7,793.4 L856.1,793.4 L856.5,793.4 L856.8,793.4 L857.2,793.4 L857.6,793.4 L858.0,793.4 L858.4,793.4 L858.8,793.4 L859.1,793.4 L859.5,793.4 L859.9,793.4 L860.3,793.4 L860.7,793.4 L861.1,793.4 L861.5,793.4 L861.8,793.4 L862.2,793.4 L862.6,793.4 L863.0,793.4 L863.4,793.4 L863.8,793.4 L864.2,793.4 L864.5,793.4 L864.9,793.4 L865.3,793.4 L865.7,793.4 L866.1,793.4 L866.5,793.4 L866.9,793.4 L867.2,793.4 L867.6,793.4 L868.0,793.4 L868.4,793.4 L868.8,793.4 L869.2,793.4 L869.5,793.4 L869.9,793.4 L870.3,793.4 L870.7,793.4 L871.1,793.4 L871.5,793.4 L871.9,793.4 L872.2,793.4 L872.6,793.4 L873.0,793.4 L873.4,793.4 L873.8,793.4 L874.2,793.3 L874.6,793.0 L874.9,792.5 L875.3,791.7 L875.7,790.5 L876.1,788.9 L876.5,787.2 L876.9,785.9 L877.3,785.3 L877.6,785.8 L878.0,787.3 L878.4,789.5 L878.8,792.1 L879.2,794.6 L879.6,796.8 L879.9,798.5 L880.3,799.8 L880.7,800.5 L881.1,800.7 L881.5,800.7 L881.9,800.6 L882.3,800.4 L882.6,800.1 L883.0,799.8 L883.4,799.4 L883.8,799.0 L884.2,798.6 L884.6,798.1 L885.0,797.7 L885.3,797.3 L885.7,796.9 L886.1,796.5 L886.5,796.2 L886.9,795.9 L887.3,795.7 L887.7,795.5 L888.0,795.3 L888.4,795.1 L888.8,795.0 L889.2,794.9 L889.6,794.8 L890.0,794.8 L890.3,794.7 L890.7,794.7 L891.1,794.6 L891.5,794.6 L891.9,794.6 L892.3,794.5 L892.7,794.5 L893.0,794.5 L893.4,794.4 L893.8,794.4 L894.2,794.3 L894.6,794.3 L895.0,794.3 L895.4,794.2 L895.7,794.2 L896.1,794.1 L896.5,794.1 L896.9,794.0 L897.3,793.9 L897.7,793.9 L898.1,793.8 L898.4,793.7 L898.8,793.6 L899.2,793.5 L899.6,793.4 L900.0,793.2 L900.4,793.1 L900.7,792.9 L901.1,792.7 L901.5,792.5 L901.9,792.3 L902.3,792.0 L902.7,791.7 L903.1,791.4 L903.4,791.1 L903.8,790.8 L904.2,790.5 L904.6,790.1 L905.0,789.8 L905.4,789.5 L905.8,789.2 L906.1,788.9 L906.5,788.7 L906.9,788.5 L907.3,788.4 L907.7,788.3 L908.1,788.2 L908.5,788.2 L908.8,788.3 L909.2,788.4 L909.6,788.6 L910.0,788.8 L910.4,789.0 L910.8,789.2 L911.1,789.5 L911.5,789.8 L911.9,790.1 L912.3,790.5 L912.7,790.8 L913.1,791.1 L913.5,791.4 L913.8,791.6 L914.2,791.9 L914.6,792.1 L915.0,792.3 L915.4,792.5 L915.8,792.6 L916.2,792.8 L916.5,792.9 L916.9,793.0 L917.3,793.1 L917.7,793.1 L918.1,793.2 L918.5,793.2 L918.9,793.3 L919.2,793.3 L919.6,793.3 L920.0,793.3 L920.4,793.3 L920.8,793.3 L921.2,793.3 L921.5,793.3 L921.9,793.2 L922.3,793.2 L922.7,793.2 L923.1,793.1 L923.5,793.1 L923.9,793.0 L924.2,792.9 L924.6,792.8 L925.0,792.7 L925.4,792.6 L925.8,792.4 L926.2,792.3 L926.6,792.1 L926.9,791.9 L927.3,791.7 L927.7,791.5 L928.1,791.3 L928.5,791.0 L928.9,790.8 L929.3,790.5 L929.6,790.3 L930.0,790.0 L930.4,789.8 L930.8,789.5 L931.2,789.3 L931.6,789.1 L931.9,788.9 L932.3,788.8 L932.7,788.7 L933.1,788.6 L933.5,788.5 L933.9,788.5 L934.3,788.5 L934.6,788.6 L935.0,788.7 L935.4,788.8 L935.8,788.9 L936.2,789.1 L936.6,789.3 L937.0,789.6 L937.3,789.8 L937.7,790.1 L938.1,790.3 L938.5,790.6 L938.9,790.9 L939.3,791.1 L939.7,791.4 L940.0,791.7 L940.4,791.9 L940.8,792.2 L941.2,792.4 L941.6,792.6 L942.0,792.8 L942.4,793.0 L942.7,793.2 L943.1,793.4 L943.5,793.5 L943.9,793.7 L944.3,793.8 L944.7,794.0 L945.0,794.1 L945.4,794.2 L945.8,794.3 L946.2,794.4 L946.6,794.5 L947.0,794.6 L947.4,794.7 L947.7,794.7 L948.1,794.8 L948.5,794.8 L948.9,794.8 L949.3,794.8 L949.7,794.8 L950.1,794.8 L950.4,794.7 L950.8,794.7 L951.2,794.6 L951.6,794.5 L952.0,794.4 L952.4,794.3 L952.8,794.2 L953.1,794.0 L953.5,793.9 L953.9,793.7 L954.3,793.5 L954.7,793.2 L955.1,793.0 L955.4,792.7 L955.8,792.4 L956.2,792.0 L956.6,791.6 L957.0,791.2 L957.4,790.7 L957.8,790.2 L958.1,789.6 L958.5,789.0 L958.9,788.3 L959.3,787.7 L959.7,787.0 L960.1,786.2 L960.5,785.5 L960.8,784.7 L961.2,783.9 L961.6,783.2 L962.0,782.5 L962.4,781.8 L962.8,781.2 L963.2,780.6 L963.5,780.1 L963.9,779.7 L964.3,779.4 L964.7,779.1 L965.1,779.0 L965.5,779.0 L965.8,779.0 L966.2,779.1 L966.6,779.2 L967.0,779.4 L967.4,779.6 L967.8,779.8 L968.2,780.0 L968.5,780.3 L968.9,780.7 L969.3,781.0 L969.7,781.4 L970.1,781.8 L970.5,782.2 L970.9,782.7 L971.2,783.1 L971.6,783.6 L972.0,784.0 L972.4,784.5 L972.8,785.0 L973.2,785.4 L973.6,785.9 L973.9,786.3 L974.3,786.8 L974.7,787.2 L975.1,787.7 L975.5,788.1 L975.9,788.5 L976.2,788.8 L976.6,789.2 L977.0,789.5 L977.4,789.9 L977.8,790.2 L978.2,790.5 L978.6,790.7 L978.9,791.0 L979.3,791.3 L979.7,791.5 L980.1,791.7 L980.5,791.9 L980.9,792.2 L981.3,792.4 L981.6,792.6 L982.0,792.9 L982.4,793.1 L982.8,793.3 L983.2,793.6 L983.6,793.8 L984.0,794.1 L984.3,794.3 L984.7,794.4 L985.1,794.5 L985.5,794.5 L985.9,794.4 L986.3,794.1 L986.6,793.8 L987.0,793.3 L987.4,792.6 L987.8,791.8 L988.2,790.9 L988.6,789.8 L989.0,788.5 L989.3,787.1 L989.7,785.5 L990.1,783.7 L990.5,781.8 L990.9,779.6 L991.3,777.2 L991.7,774.5 L992.0,771.6 L992.4,768.3 L992.8,764.8 L993.2,760.8 L993.6,756.5 L994.0,751.8 L994.4,746.7 L994.7,741.1 L995.1,735.1 L995.5,728.7 L995.9,721.8 L996.3,714.4 L996.7,706.6 L997.0,698.4 L997.4,689.7 L997.8,680.7 L998.2,671.3 L998.6,661.7 L999.0,651.7 L999.4,641.6 L999.7,631.4 L1000.1,621.0 L1000.5,610.7 L1000.9,600.5 L1001.3,590.4 L1001.7,580.5 L1002.1,571.0 L1002.4,561.9 L1002.8,553.2 L1003.2,545.2 L1003.6,537.8 L1004.0,531.1 L1004.4,525.2 L1004.8,520.2 L1005.1,516.0 L1005.5,512.8 L1005.9,510.6 L1006.3,509.5 L1006.7,509.3 L1007.1,510.2 L1007.4,512.3 L1007.8,515.5 L1008.2,519.7 L1008.6,524.9 L1009.0,531.1 L1009.4,538.1 L1009.8,546.0 L1010.1,554.5 L1010.5,563.7 L1010.9,573.4 L1011.3,583.6 L1011.7,594.1 L1012.1,604.8 L1012.5,615.6 L1012.8,626.5 L1013.2,637.3 L1013.6,648.0 L1014.0,658.6 L1014.4,668.8 L1014.8,678.8 L1015.2,688.3 L1015.5,697.5 L1015.9,706.2 L1016.3,714.4 L1016.7,722.1 L1017.1,729.4 L1017.5,736.1 L1017.8,742.3 L1018.2,748.0 L1018.6,753.3 L1019.0,758.1 L1019.4,762.4 L1019.8,766.3 L1020.2,769.8 L1020.5,773.0 L1020.9,775.8 L1021.3,778.2 L1021.7,780.4 L1022.1,782.3 L1022.5,784.0 L1022.9,785.4 L1023.2,786.7 L1023.6,787.8 L1024.0,788.7 L1024.4,789.5 L1024.8,790.1 L1025.2,790.7 L1025.6,791.2 L1025.9,791.6 L1026.3,791.9 L1026.7,792.2 L1027.1,792.4 L1027.5,792.6 L1027.9,792.8 L1028.2,792.9 L1028.6,793.0 L1029.0,793.1 L1029.4,793.1 L1029.8,793.2 L1030.2,793.2 L1030.6,793.3 L1030.9,793.3 L1031.3,793.3 L1031.7,793.3 L1032.1,793.4 L1032.5,793.4 L1032.9,793.4 L1033.3,793.4 L1033.6,793.4 L1034.0,793.4 L1034.4,793.4 L1034.8,793.4 L1035.2,793.4 L1035.6,793.4 L1036.0,793.4 L1036.3,793.4 L1036.7,793.4 L1037.1,793.4 L1037.5,793.4 L1037.9,793.4 L1038.3,793.4 L1038.7,793.4 L1039.0,793.4 L1039.4,793.4 L1039.8,793.4 L1040.2,793.4 L1040.6,793.4 L1041.0,793.4 L1041.3,793.4 L1041.7,793.4 L1042.1,793.4 L1042.5,793.4 L1042.9,793.4 L1043.3,793.4 L1043.7,793.4 L1044.0,793.4 L1044.4,793.4 L1044.8,793.4 L1045.2,793.4 L1045.6,793.4 L1046.0,793.4 L1046.4,793.4 L1046.7,793.4 L1047.1,793.4 L1047.5,793.4 L1047.9,793.4 L1048.3,793.4 L1048.7,793.4 L1049.1,793.4 L1049.4,793.4 L1049.8,793.4 L1050.2,793.4 L1050.6,793.4 L1051.0,793.4 L1051.4,793.4 L1051.7,793.4 L1052.1,793.4 L1052.5,793.4 L1052.9,793.4 L1053.3,793.4 L1053.7,793.4 L1054.1,793.4 L1054.4,793.4 L1054.8,793.4 L1055.2,793.4 L1055.6,793.4 L1056.0,793.4 L1056.4,793.4 L1056.8,793.4 L1057.1,793.4 L1057.5,793.4 L1057.9,793.4 L1058.3,793.4 L1058.7,793.4 L1059.1,793.4 L1059.5,793.4 L1059.8,793.4 L1060.2,793.4 L1060.6,793.4 L1061.0,793.4 L1061.4,793.4 L1061.8,793.4 L1062.1,793.4 L1062.5,793.4 L1062.9,793.4 L1063.3,793.4 L1063.7,793.4 L1064.1,793.4 L1064.5,793.4 L1064.8,793.4 L1065.2,793.4 L1065.6,793.4 L1066.0,793.4 L1066.4,793.4 L1066.8,793.4 L1067.2,793.4 L1067.5,793.4 L1067.9,793.4 L1068.3,793.4 L1068.7,793.4 L1069.1,793.4 L1069.5,793.4 L1069.9,793.4 L1070.2,793.4 L1070.6,793.4 L1071.0,793.4 L1071.4,793.4 L1071.8,793.4 L1072.2,793.4 L1072.5,793.4 L1072.9,793.4 L1073.3,793.4 L1073.7,793.4 L1074.1,793.4 L1074.5,793.4 L1074.9,793.4 L1075.2,793.4 L1075.6,793.4 L1076.0,793.4 L1076.4,793.4 L1076.8,793.4 L1077.2,793.4 L1077.6,793.4 L1077.9,793.4 L1078.3,793.4 L1078.7,793.4 L1079.1,793.4 L1079.5,793.4 L1079.9,793.4 L1080.3,793.4 L1080.6,793.4 L1081.0,793.4 L1081.4,793.4 L1081.8,793.4 L1082.2,793.4 L1082.6,793.4 L1082.9,793.4 L1083.3,793.4 L1083.7,793.4 L1084.1,793.4 L1084.5,793.4 L1084.9,793.4 L1085.3,793.4 L1085.6,793.4 L1086.0,793.4 L1086.4,793.4 L1086.8,793.4 L1087.2,793.3 L1087.6,793.3 L1088.0,793.3 L1088.3,793.3 L1088.7,793.3 L1089.1,793.2 L1089.5,793.2 L1089.9,793.2 L1090.3,793.1 L1090.7,793.1 L1091.0,793.0 L1091.4,793.0 L1091.8,792.9 L1092.2,792.8 L1092.6,792.7 L1093.0,792.5 L1093.3,792.4 L1093.7,792.2 L1094.1,792.0 L1094.5,791.8 L1094.9,791.5 L1095.3,791.2 L1095.7,790.9 L1096.0,790.5 L1096.4,790.0 L1096.8,789.5 L1097.2,789.0 L1097.6,788.3 L1098.0,787.6 L1098.4,786.8 L1098.7,785.9 L1099.1,784.9 L1099.5,783.8 L1099.9,782.6 L1100.3,781.3 L1100.7,779.8 L1101.1,778.2 L1101.4,776.4 L1101.8,774.5 L1102.2,772.4 L1102.6,770.1 L1103.0,767.6 L1103.4,765.0 L1103.7,762.1 L1104.1,759.1 L1104.5,755.8 L1104.9,752.4 L1105.3,748.7 L1105.7,744.8 L1106.1,740.7 L1106.4,736.4 L1106.8,731.9 L1107.2,727.1 L1107.6,722.2 L1108.0,717.2 L1108.4,711.9 L1108.8,706.5 L1109.1,701.0 L1109.5,695.4 L1109.9,689.6 L1110.3,683.8 L1110.7,678.0 L1111.1,672.1 L1111.5,666.2 L1111.8,660.4 L1112.2,654.7 L1112.6,649.0 L1113.0,643.5 L1113.4,638.2 L1113.8,633.0 L1114.1,628.1 L1114.5,623.4 L1114.9,619.1 L1115.3,615.0 L1115.7,611.3 L1116.1,608.0 L1116.5,605.0 L1116.8,602.5 L1117.2,600.4 L1117.6,598.8 L1118.0,597.6 L1118.4,596.9 L1118.8,596.6 L1119.2,596.9 L1119.5,597.6 L1119.9,598.8 L1120.3,600.4 L1120.7,602.5 L1121.1,605.0 L1121.5,608.0 L1121.9,611.3 L1122.2,615.0 L1122.6,619.1 L1123.0,623.4 L1123.4,628.1 L1123.8,633.0 L1124.2,638.2 L1124.5,643.5 L1124.9,649.0 L1125.3,654.7 L1125.7,660.4 L1126.1,666.2 L1126.5,672.1 L1126.9,678.0 L1127.2,683.8 L1127.6,689.6 L1128.0,695.4 L1128.4,701.0 L1128.8,706.5 L1129.2,711.9 L1129.6,717.2 L1129.9,722.2 L1130.3,727.1 L1130.7,731.9 L1131.1,736.4 L1131.5,740.7 L1131.9,744.8 L1132.3,748.7 L1132.6,752.4 L1133.0,755.8 L1133.4,759.1 L1133.8,762.1 L1134.2,765.0 L1134.6,767.6 L1135.0,770.1 L1135.3,772.4 L1135.7,774.5 L1136.1,776.4 L1136.5,778.2 L1136.9,779.8 L1137.3,781.3 L1137.6,782.6 L1138.0,783.8 L1138.4,784.9 L1138.8,785.9 L1139.2,786.8 L1139.6,787.6 L1140.0,788.3 L1140.3,789.0 L1140.7,789.5 L1141.1,790.0 L1141.5,790.5 L1141.9,790.9 L1142.3,791.2 L1142.7,791.5 L1143.0,791.8 L1143.4,792.0 L1143.8,792.2 L1144.2,792.4 L1144.6,792.5 L1145.0,792.7 L1145.4,792.8 L1145.7,792.9 L1146.1,793.0 L1146.5,793.0 L1146.9,793.1 L1147.3,793.1 L1147.7,793.2 L1148.0,793.2 L1148.4,793.2 L1148.8,793.3 L1149.2,793.3 L1149.6,793.3 L1150.0,793.3 L1150.4,793.3 L1150.7,793.4 L1151.1,793.4 L1151.5,793.4 L1151.9,793.4 L1152.3,793.4 L1152.7,793.4 L1153.1,793.4 L1153.4,793.4 L1153.8,793.4 L1154.2,793.4 L1154.6,793.4 L1155.0,793.4 L1155.4,793.4 L1155.8,793.4 L1156.1,793.4 L1156.5,793.4 L1156.9,793.4 L1157.3,793.4 L1157.7,793.4 L1158.1,793.4 L1158.4,793.4 L1158.8,793.4 L1159.2,793.4 L1159.6,793.4 L1160.0,793.4 L1160.4,793.4 L1160.8,793.4 L1161.1,793.4 L1161.5,793.4 L1161.9,793.4 L1162.3,793.4 L1162.7,793.4 L1163.1,793.4 L1163.5,793.4 L1163.8,793.4 L1164.2,793.4 L1164.6,793.4 L1165.0,793.4 L1165.4,793.4 L1165.8,793.4 L1166.2,793.4 L1166.5,793.4 L1166.9,793.4 L1167.3,793.4 L1167.7,793.4 L1168.1,793.4 L1168.5,793.4 L1168.8,793.4 L1169.2,793.4 L1169.6,793.4 L1170.0,793.4 L1170.4,793.4 L1170.8,793.4 L1171.2,793.4 L1171.5,793.4 L1171.9,793.4 L1172.3,793.4 L1172.7,793.4 L1173.1,793.4 L1173.5,793.4 L1173.9,793.4 L1174.2,793.4 L1174.6,793.4 L1175.0,793.4 L1175.4,793.4 L1175.8,793.4 L1176.2,793.4 L1176.6,793.4 L1176.9,793.4 L1177.3,793.4 L1177.7,793.4 L1178.1,793.4 L1178.5,793.4 L1178.9,793.4 L1179.2,793.4 L1179.6,793.4 L1180.0,793.4 L1180.4,793.4 L1180.8,793.4 L1181.2,793.4 L1181.6,793.4 L1181.9,793.4 L1182.3,793.4 L1182.7,793.4 L1183.1,793.4 L1183.5,793.4 L1183.9,793.4 L1184.3,793.4 L1184.6,793.4 L1185.0,793.4 L1185.4,793.4 L1185.8,793.4 L1186.2,793.4 L1186.6,793.4 L1187.0,793.4 L1187.3,793.4 L1187.7,793.4 L1188.1,793.4 L1188.5,793.4 L1188.9,793.4 L1189.3,793.4 L1189.6,793.4 L1190.0,793.4 L1190.4,793.4 L1190.8,793.4 L1191.2,793.4 L1191.6,793.4 L1192.0,793.4 L1192.3,793.4 L1192.7,793.3 L1193.1,793.3 L1193.5,793.3 L1193.9,793.3 L1194.3,793.3 L1194.7,793.3 L1195.0,793.3 L1195.4,793.3 L1195.8,793.3 L1196.2,793.3 L1196.6,793.3 L1197.0,793.3 L1197.4,793.3 L1197.7,793.3 L1198.1,793.3 L1198.5,793.3 L1198.9,793.3 L1199.3,793.3 L1199.7,793.3 L1200.0,793.3 L1200.4,793.3 L1200.8,793.3 L1201.2,793.3 L1201.6,793.3 L1202.0,793.3 L1202.4,793.3 L1202.7,793.3 L1203.1,793.2 L1203.5,793.2 L1203.9,793.2 L1204.3,793.2 L1204.7,793.2 L1205.1,793.2 L1205.4,793.2 L1205.8,793.2 L1206.2,793.2 L1206.6,793.2 L1207.0,793.2 L1207.4,793.2 L1207.8,793.2 L1208.1,793.2 L1208.5,793.2 L1208.9,793.1 L1209.3,793.1 L1209.7,793.1 L1210.1,793.1 L1210.4,793.1 L1210.8,793.1 L1211.2,793.1 L1211.6,793.1 L1212.0,793.1 L1212.4,793.1 L1212.8,793.1 L1213.1,793.1 L1213.5,793.1 L1213.9,793.0 L1214.3,793.0 L1214.7,793.0 L1215.1,793.0 L1215.5,793.0 L1215.8,793.0 L1216.2,793.0 L1216.6,793.0 L1217.0,793.0 L1217.4,793.0 L1217.8,793.0 L1218.2,793.0 L1218.5,792.9 L1218.9,792.9 L1219.3,792.9 L1219.7,792.9 L1220.1,792.9 L1220.5,792.9 L1220.9,792.9 L1221.2,792.9 L1221.6,792.9 L1222.0,792.9 L1222.4,792.9 L1222.8,792.8 L1223.2,792.8 L1223.5,792.8 L1223.9,792.8 L1224.3,792.8 L1224.7,792.8 L1225.1,792.8 L1225.5,792.8 L1225.9,792.8 L1226.2,792.8 L1226.6,792.8 L1227.0,792.8 L1227.4,792.8 L1227.8,792.8 L1228.2,792.7 L1228.6,792.7 L1228.9,792.7 L1229.3,792.7 L1229.7,792.7 L1230.1,792.7 L1230.5,792.7 L1230.9,792.7 L1231.3,792.7 L1231.6,792.7 L1232.0,792.7 L1232.4,792.7 L1232.8,792.7 L1233.2,792.7 L1233.6,792.7 L1233.9,792.7 L1234.3,792.7 L1234.7,792.7 L1235.1,792.7 L1235.5,792.7 L1235.9,792.7 L1236.3,792.7 L1236.6,792.7 L1237.0,792.7 L1237.4,792.7 L1237.8,792.7 L1238.2,792.7 L1238.6,792.7 L1239.0,792.7 L1239.3,792.7 L1239.7,792.7 L1240.1,792.7 L1240.5,792.7 L1240.9,792.7 L1241.3,792.7 L1241.7,792.7 L1242.0,792.7 L1242.4,792.7 L1242.8,792.7 L1243.2,792.7 L1243.6,792.7 L1244.0,792.7 L1244.3,792.7 L1244.7,792.7 L1245.1,792.7 L1245.5,792.7 L1245.9,792.7 L1246.3,792.7 L1246.7,792.7 L1247.0,792.7 L1247.4,792.8 L1247.8,792.8 L1248.2,792.8 L1248.6,792.8 L1249.0,792.8 L1249.4,792.8 L1249.7,792.8 L1250.1,792.8 L1250.5,792.8 L1250.9,792.8 L1251.3,792.8 L1251.7,792.8 L1252.1,792.8 L1252.4,792.8 L1252.8,792.8 L1253.2,792.8 L1253.6,792.8 L1254.0,792.8 L1254.4,792.8 L1254.7,792.8 L1255.1,792.9 L1255.5,792.9 L1255.9,792.9 L1256.3,792.9 L1256.7,792.9 L1257.1,792.9 L1257.4,792.9 L1257.8,792.9 L1258.2,792.9 L1258.6,792.9 L1259.0,792.9 L1259.4,792.9 L1259.8,792.9 L1260.1,792.9 L1260.5,792.9 L1260.9,792.9 L1261.3,792.9 L1261.7,792.9 L1262.1,792.9 L1262.5,792.9 L1262.8,792.9 L1263.2,792.9 L1263.6,792.9 L1264.0,792.9 L1264.4,792.9 L1264.8,792.9 L1265.1,792.9 L1265.5,792.9 L1265.9,792.9 L1266.3,792.9 L1266.7,792.9 L1267.1,792.9 L1267.5,792.8 L1267.8,792.8 L1268.2,792.8 L1268.6,792.8 L1269.0,792.8 L1269.4,792.8 L1269.8,792.8 L1270.2,792.8 L1270.5,792.8 L1270.9,792.8 L1271.3,792.8 L1271.7,792.8 L1272.1,792.8 L1272.5,792.8 L1272.9,792.7 L1273.2,792.7 L1273.6,792.7 L1274.0,792.7 L1274.4,792.7 L1274.8,792.7 L1275.2,792.7 L1275.5,792.7 L1275.9,792.7 L1276.3,792.7 L1276.7,792.7 L1277.1,792.7 L1277.5,792.6 L1277.9,792.6 L1278.2,792.6 L1278.6,792.6 L1279.0,792.6 L1279.4,792.6 L1279.8,792.6 L1280.2,792.6 L1280.6,792.6 L1280.9,792.6 L1281.3,792.6 L1281.7,792.6 L1282.1,792.6 L1282.5,792.5 L1282.9,792.5 L1283.3,792.5 L1283.6,792.5 L1284.0,792.5 L1284.4,792.5 L1284.8,792.5 L1285.2,792.5 L1285.6,792.5 L1285.9,792.5 L1286.3,792.5 L1286.7,792.5 L1287.1,792.5 L1287.5,792.5 L1287.9,792.5 L1288.3,792.5 L1288.6,792.5 L1289.0,792.5 L1289.4,792.5 L1289.8,792.5 L1290.2,792.5 L1290.6,792.5 L1291.0,792.5 L1291.3,792.5 L1291.7,792.5 L1292.1,792.5 L1292.5,792.6 L1292.9,792.6 L1293.3,792.6 L1293.7,792.6 L1294.0,792.6 L1294.4,792.6 L1294.8,792.6 L1295.2,792.6 L1295.6,792.6 L1296.0,792.6 L1296.3,792.6 L1296.7,792.7 L1297.1,792.7 L1297.5,792.7 L1297.9,792.7 L1298.3,792.7 L1298.7,792.7 L1299.0,792.7 L1299.4,792.7 L1299.8,792.7 L1300.2,792.8 L1300.6,792.8 L1301.0,792.8 L1301.4,792.8 L1301.7,792.8 L1302.1,792.9 L1302.5,792.9 L1302.9,792.9 L1303.3,792.9 L1303.7,793.0 L1304.1,793.0 L1304.4,793.0 L1304.8,793.0 L1305.2,793.1 L1305.6,793.1 L1306.0,793.1 L1306.4,793.1 L1306.7,793.2 L1307.1,793.2 L1307.5,793.2 L1307.9,793.2 L1308.3,793.3 L1308.7,793.3 L1309.1,793.3 L1309.4,793.3 L1309.8,793.4 L1310.2,793.4 L1310.6,793.4 L1311.0,793.4 L1311.4,793.5 L1311.8,793.5 L1312.1,793.5 L1312.5,793.5 L1312.9,793.6 L1313.3,793.6 L1313.7,793.6 L1314.1,793.6 L1314.5,793.6 L1314.8,793.7 L1315.2,793.7 L1315.6,793.7 L1316.0,793.7 L1316.4,793.8 L1316.8,793.8 L1317.2,793.8 L1317.5,793.8 L1317.9,793.8 L1318.3,793.9 L1318.7,793.9 L1319.1,793.9 L1319.5,793.9 L1319.8,793.9 L1320.2,793.9 L1320.6,794.0 L1321.0,794.0 L1321.4,794.0 L1321.8,794.0 L1322.2,794.0 L1322.5,794.0 L1322.9,794.1 L1323.3,794.1 L1323.7,794.1 L1324.1,794.1 L1324.5,794.1 L1324.9,794.1 L1325.2,794.2 L1325.6,794.2 L1326.0,794.2 L1326.4,794.2 L1326.8,794.2 L1327.2,794.2 L1327.6,794.2 L1327.9,794.2 L1328.3,794.2 L1328.7,794.2 L1329.1,794.2 L1329.5,794.2 L1329.9,794.2 L1330.2,794.2 L1330.6,794.2 L1331.0,794.2 L1331.4,794.2 L1331.8,794.2 L1332.2,794.3 L1332.6,794.3 L1332.9,794.3 L1333.3,794.3 L1333.7,794.3 L1334.1,794.3 L1334.5,794.3 L1334.9,794.3 L1335.3,794.3 L1335.6,794.3 L1336.0,794.3 L1336.4,794.3 L1336.8,794.3 L1337.2,794.3 L1337.6,794.3 L1338.0,794.3 L1338.3,794.3 L1338.7,794.3 L1339.1,794.3 L1339.5,794.3 L1339.9,794.3 L1340.3,794.3 L1340.6,794.3 L1341.0,794.3 L1341.4,794.3 L1341.8,794.3 L1342.2,794.3 L1342.6,794.3 L1343.0,794.3 L1343.3,794.3 L1343.7,794.3 L1344.1,794.3 L1344.5,794.3" fill="none" stroke="#5a62b5" stroke-width="1.15"/>
<text transform="translate(1010.3,524.5) rotate(-90)" font-size="9.5" fill="#222" font-family="Liberation Sans" textLength="25" lengthAdjust="spacingAndGlyphs">1.706</text>
<text transform="translate(1122.3,593.5) rotate(-90)" font-size="9.5" fill="#222" font-family="Liberation Sans" textLength="24.5" lengthAdjust="spacingAndGlyphs">2.580</text>
<line x1="1002" y1="521.5" x2="1011" y2="521.5" stroke="#444" stroke-width="0.8"/>
<line x1="1057.1" y1="791.9" x2="1057.1" y2="796.4" stroke="#555" stroke-width="0.9"/>
<line x1="1076.4" y1="791.9" x2="1076.4" y2="796.4" stroke="#555" stroke-width="0.9"/>
<line x1="1179.1" y1="791.9" x2="1179.1" y2="796.4" stroke="#555" stroke-width="0.9"/>
<text x="53.0" y="57.5" font-size="33" fill="#1e1e1e" font-weight="bold" textLength="65.0" lengthAdjust="spacingAndGlyphs" font-family='"Liberation Sans", sans-serif'>D, L-</text>
<text x="117.2" y="57.5" font-size="32" fill="#1e1e1e" font-weight="bold" textLength="96.1" lengthAdjust="spacingAndGlyphs" font-family='"Liberation Sans", sans-serif'>精氨酸</text>
<text x="48.8" y="491.8" font-size="29.5" fill="#1e1e1e" font-weight="bold" textLength="63.4" lengthAdjust="spacingAndGlyphs" font-family='"Liberation Sans", sans-serif'>D,L-</text>
<text x="112.6" y="493.3" font-size="30.5" fill="#1e1e1e" font-weight="bold" textLength="96.1" lengthAdjust="spacingAndGlyphs" font-family='"Liberation Sans", sans-serif'>缬氨酸</text>
<g stroke="#2b2b2b" stroke-width="0.3"><text x="52.4" y="86.1" font-size="21.2" fill="#2b2b2b" font-family='"Liberation Sans", sans-serif'>色谱柱：</text>
<text x="135.8" y="84.6" font-size="20" fill="#2b2b2b" textLength="481.2" lengthAdjust="spacingAndGlyphs" font-family='"Liberation Sans", sans-serif'>Chiral AAOA 3u 50*4.6mm (FMB-AAOA3-EONU)</text></g>
<g stroke="#2b2b2b" stroke-width="0.3"><text x="52.4" y="111.3" font-size="21.2" fill="#2b2b2b" font-family='"Liberation Sans", sans-serif'>流动相：</text>
<text x="136.1" y="109.8" font-size="20" fill="#2b2b2b" textLength="130.7" lengthAdjust="spacingAndGlyphs" font-family='"Liberation Sans", sans-serif'>2mM CUSO4</text>
<text x="270.6" y="111.3" font-size="21.2" fill="#2b2b2b" font-family='"Liberation Sans", sans-serif'>水溶液：</text>
<text x="356.7" y="111.3" font-size="21.2" fill="#2b2b2b" font-family='"Liberation Sans", sans-serif'>异丙醇</text>
<text x="418.8" y="109.8" font-size="20" fill="#2b2b2b" textLength="40.2" lengthAdjust="spacingAndGlyphs" font-family='"Liberation Sans", sans-serif'>=99</text>
<text x="457.6" y="111.3" font-size="21.2" fill="#2b2b2b" font-family='"Liberation Sans", sans-serif'>：</text>
<text x="477.5" y="109.8" font-size="20" fill="#2b2b2b" textLength="8.5" lengthAdjust="spacingAndGlyphs" font-family='"Liberation Sans", sans-serif'>1</text></g>
<g stroke="#2b2b2b" stroke-width="0.3"><text x="52.4" y="137.0" font-size="21.2" fill="#2b2b2b" font-family='"Liberation Sans", sans-serif'>流速：</text>
<text x="117.1" y="135.5" font-size="20" fill="#2b2b2b" textLength="92.4" lengthAdjust="spacingAndGlyphs" font-family='"Liberation Sans", sans-serif'>1 mL/min</text></g>
<g stroke="#2b2b2b" stroke-width="0.3"><text x="52.4" y="162.3" font-size="21.2" fill="#2b2b2b" font-family='"Liberation Sans", sans-serif'>波长：</text>
<text x="115.5" y="160.8" font-size="20" fill="#2b2b2b" textLength="36.3" lengthAdjust="spacingAndGlyphs" font-family='"Liberation Sans", sans-serif'>254</text></g>
<g stroke="#2b2b2b" stroke-width="0.3"><text x="52.4" y="187.9" font-size="21.2" fill="#2b2b2b" font-family='"Liberation Sans", sans-serif'>温度：</text>
<text x="115.5" y="186.4" font-size="20" fill="#2b2b2b" textLength="44.2" lengthAdjust="spacingAndGlyphs" font-family='"Liberation Sans", sans-serif'>25°C</text></g>
<g stroke="#2b2b2b" stroke-width="0.3"><text x="52.4" y="213.6" font-size="21.2" fill="#2b2b2b" font-family='"Liberation Sans", sans-serif'>样品浓度：</text>
<text x="158.4" y="213.6" font-size="21.2" fill="#2b2b2b" font-family='"Liberation Sans", sans-serif'>流动相配制，约</text>
<text x="305.8" y="212.1" font-size="20" fill="#2b2b2b" textLength="86.6" lengthAdjust="spacingAndGlyphs" font-family='"Liberation Sans", sans-serif'>2mg/mL</text></g>
<g stroke="#2b2b2b" stroke-width="0.3"><text x="52.4" y="238.6" font-size="21.2" fill="#2b2b2b" font-family='"Liberation Sans", sans-serif'>进样量：</text>
<text x="139.0" y="237.1" font-size="20" fill="#2b2b2b" textLength="38.0" lengthAdjust="spacingAndGlyphs" font-family='"Liberation Sans", sans-serif'>1 μL</text></g>
<g stroke="#2b2b2b" stroke-width="0.3"><text x="48.6" y="527.6" font-size="21.1" fill="#2b2b2b" font-family='"Liberation Sans", sans-serif'>色谱柱：</text>
<text x="132.8" y="526.4" font-size="21" fill="#2b2b2b" textLength="489.0" lengthAdjust="spacingAndGlyphs" font-family='"Liberation Sans", sans-serif'>Chiral AAOA 3u 50*4.6mm (FMB-AAOA3-EONU)</text></g>
<g stroke="#2b2b2b" stroke-width="0.3"><text x="48.6" y="557.4" font-size="21.1" fill="#2b2b2b" font-family='"Liberation Sans", sans-serif'>流动相：</text>
<text x="132.8" y="556.2" font-size="21" fill="#2b2b2b" textLength="73.6" lengthAdjust="spacingAndGlyphs" font-family='"Liberation Sans", sans-serif'>2mM C</text>
<text x="206.2" y="559.2" font-size="21" fill="#2b2b2b" textLength="14.1" lengthAdjust="spacingAndGlyphs" font-family='"Liberation Sans", sans-serif'>U</text>
<text x="221.6" y="556.2" font-size="21" fill="#2b2b2b" textLength="29.9" lengthAdjust="spacingAndGlyphs" font-family='"Liberation Sans", sans-serif'>SO</text>
<text x="250.8" y="559.2" font-size="21" fill="#2b2b2b" textLength="13.2" lengthAdjust="spacingAndGlyphs" font-family='"Liberation Sans", sans-serif'>4</text>
<text x="272.4" y="557.4" font-size="21.1" fill="#2b2b2b" font-family='"Liberation Sans", sans-serif'>水溶液：</text>
<text x="358.1" y="557.4" font-size="21.1" fill="#2b2b2b" font-family='"Liberation Sans", sans-serif'>异丙醇</text>
<text x="421.8" y="556.2" font-size="21" fill="#2b2b2b" textLength="40.0" lengthAdjust="spacingAndGlyphs" font-family='"Liberation Sans", sans-serif'>=95</text>
<text x="460.6" y="557.4" font-size="21.1" fill="#2b2b2b" font-family='"Liberation Sans", sans-serif'>：</text>
<text x="482.8" y="556.2" font-size="21" fill="#2b2b2b" textLength="12.6" lengthAdjust="spacingAndGlyphs" font-family='"Liberation Sans", sans-serif'>5</text></g>
<g stroke="#2b2b2b" stroke-width="0.3"><text x="48.6" y="590.6" font-size="21.1" fill="#2b2b2b" font-family='"Liberation Sans", sans-serif'>流速：</text>
<text x="111.4" y="589.4" font-size="21" fill="#2b2b2b" textLength="91.0" lengthAdjust="spacingAndGlyphs" font-family='"Liberation Sans", sans-serif'>1mL/min</text></g>
<g stroke="#2b2b2b" stroke-width="0.3"><text x="48.6" y="622.1" font-size="21.1" fill="#2b2b2b" font-family='"Liberation Sans", sans-serif'>波长：</text>
<text x="110.2" y="620.9" font-size="21" fill="#2b2b2b" textLength="39.1" lengthAdjust="spacingAndGlyphs" font-family='"Liberation Sans", sans-serif'>254</text></g>
<g stroke="#2b2b2b" stroke-width="0.3"><text x="48.6" y="654.2" font-size="21.1" fill="#2b2b2b" font-family='"Liberation Sans", sans-serif'>温度：</text>
<text x="110.2" y="653.0" font-size="21" fill="#2b2b2b" textLength="47.5" lengthAdjust="spacingAndGlyphs" font-family='"Liberation Sans", sans-serif'>25°C</text></g>
<g stroke="#2b2b2b" stroke-width="0.3"><text x="48.1" y="685.6" font-size="21.1" fill="#2b2b2b" font-family='"Liberation Sans", sans-serif'>样品浓度：</text>
<text x="153.4" y="685.6" font-size="21.1" fill="#2b2b2b" font-family='"Liberation Sans", sans-serif'>流动相配制，约</text>
<text x="307.8" y="684.4" font-size="21" fill="#2b2b2b" textLength="85.1" lengthAdjust="spacingAndGlyphs" font-family='"Liberation Sans", sans-serif'>2mg/mL</text></g>
<g stroke="#2b2b2b" stroke-width="0.3"><text x="48.6" y="717.6" font-size="21.1" fill="#2b2b2b" font-family='"Liberation Sans", sans-serif'>进样量：</text>
<text x="134.0" y="716.4" font-size="21" fill="#2b2b2b" textLength="41.5" lengthAdjust="spacingAndGlyphs" font-family='"Liberation Sans", sans-serif'>1 μL</text></g>
<rect x="45.20" y="299.20" width="1.6" height="87.70" fill="#1a1a1a"/>
<rect x="183.20" y="299.20" width="1.6" height="87.70" fill="#1a1a1a"/>
<rect x="323.70" y="299.20" width="1.6" height="87.70" fill="#1a1a1a"/>
<rect x="461.70" y="299.20" width="1.6" height="87.70" fill="#1a1a1a"/>
<rect x="600.20" y="299.20" width="1.6" height="87.70" fill="#1a1a1a"/>
<rect x="738.40" y="299.20" width="1.6" height="87.70" fill="#1a1a1a"/>
<rect x="45.20" y="299.20" width="694.80" height="1.6" fill="#1a1a1a"/>
<rect x="45.20" y="327.80" width="694.80" height="1.6" fill="#1a1a1a"/>
<rect x="45.20" y="354.90" width="694.80" height="1.6" fill="#1a1a1a"/>
<rect x="45.20" y="383.80" width="694.80" height="1.6" fill="#1a1a1a"/>
<text x="53.7" y="321.3" font-size="18.2" fill="#3a3a3a" font-family='"Liberation Serif", serif'>样品名称</text>
<text x="194.0" y="321.3" font-size="18.2" fill="#3a3a3a" font-family='"Liberation Serif", serif'>保留时间</text>
<text x="332.4" y="321.3" font-size="18.2" fill="#3a3a3a" font-family='"Liberation Serif", serif'>柱效</text>
<text x="471.3" y="321.3" font-size="18.2" fill="#3a3a3a" font-family='"Liberation Serif", serif'>对称因子</text>
<text x="610.2" y="321.3" font-size="18.2" fill="#3a3a3a" font-family='"Liberation Serif", serif'>分离度</text>
<text x="53.9" y="347.7" font-size="18" fill="#2e2e2e" textLength="17.7" lengthAdjust="spacingAndGlyphs" font-family='"Liberation Serif", serif'>L-</text>
<text x="70.7" y="348.4" font-size="18.2" fill="#3a3a3a" font-family='"Liberation Serif", serif'>精氨酸</text>
<text x="194.2" y="347.7" font-size="18" fill="#2e2e2e" textLength="40.2" lengthAdjust="spacingAndGlyphs" font-family='"Liberation Serif", serif'>1.003</text>
<text x="332.4" y="347.7" font-size="18" fill="#2e2e2e" textLength="37.8" lengthAdjust="spacingAndGlyphs" font-family='"Liberation Serif", serif'>1878</text>
<text x="471.2" y="347.7" font-size="18" fill="#2e2e2e" textLength="32.6" lengthAdjust="spacingAndGlyphs" font-family='"Liberation Serif", serif'>0.85</text>
<text x="53.9" y="376.3" font-size="18" fill="#2e2e2e" textLength="18.7" lengthAdjust="spacingAndGlyphs" font-family='"Liberation Serif", serif'>D-</text>
<text x="71.7" y="377.0" font-size="18.2" fill="#3a3a3a" font-family='"Liberation Serif", serif'>精氨酸</text>
<text x="194.2" y="376.3" font-size="18" fill="#2e2e2e" textLength="41.4" lengthAdjust="spacingAndGlyphs" font-family='"Liberation Serif", serif'>1.396</text>
<text x="332.4" y="376.3" font-size="18" fill="#2e2e2e" textLength="27.9" lengthAdjust="spacingAndGlyphs" font-family='"Liberation Serif", serif'>892</text>
<text x="471.2" y="376.3" font-size="18" fill="#2e2e2e" textLength="32.6" lengthAdjust="spacingAndGlyphs" font-family='"Liberation Serif", serif'>0.72</text>
<text x="609.7" y="376.3" font-size="18" fill="#2e2e2e" textLength="31.6" lengthAdjust="spacingAndGlyphs" font-family='"Liberation Serif", serif'>2.81</text>
<rect x="50.40" y="739.50" width="1.6" height="84.70" fill="#1a1a1a"/>
<rect x="185.40" y="739.50" width="1.6" height="84.70" fill="#1a1a1a"/>
<rect x="320.60" y="739.50" width="1.6" height="84.70" fill="#1a1a1a"/>
<rect x="454.00" y="739.50" width="1.6" height="84.70" fill="#1a1a1a"/>
<rect x="589.20" y="739.50" width="1.6" height="84.70" fill="#1a1a1a"/>
<rect x="722.40" y="739.50" width="1.6" height="84.70" fill="#1a1a1a"/>
<rect x="50.40" y="739.50" width="673.60" height="1.6" fill="#1a1a1a"/>
<rect x="50.40" y="766.90" width="673.60" height="1.6" fill="#1a1a1a"/>
<rect x="50.40" y="794.00" width="673.60" height="1.6" fill="#1a1a1a"/>
<rect x="50.40" y="821.10" width="673.60" height="1.6" fill="#1a1a1a"/>
<text x="59.7" y="760.4" font-size="17.4" fill="#505050" font-family='"Liberation Serif", serif'>样品名称</text>
<text x="196.6" y="760.4" font-size="17.4" fill="#505050" font-family='"Liberation Serif", serif'>保留时间</text>
<text x="329.6" y="760.4" font-size="17.4" fill="#505050" font-family='"Liberation Serif", serif'>柱效</text>
<text x="463.9" y="760.4" font-size="17.4" fill="#505050" font-family='"Liberation Serif", serif'>对称因子</text>
<text x="598.7" y="760.4" font-size="17.4" fill="#505050" font-family='"Liberation Serif", serif'>分离度</text>
<text x="59.2" y="787.3" font-size="17.5" fill="#2e2e2e" textLength="17.4" lengthAdjust="spacingAndGlyphs" font-family='"Liberation Serif", serif'>L-</text>
<text x="75.7" y="787.9" font-size="17.8" fill="#505050" font-family='"Liberation Serif", serif'>缬氨酸</text>
<text x="195.4" y="787.1" font-size="17" fill="#2e2e2e" textLength="37.0" lengthAdjust="spacingAndGlyphs" font-family='"Liberation Serif", serif'>1.706</text>
<text x="329.8" y="787.3" font-size="17.5" fill="#2e2e2e" textLength="35.6" lengthAdjust="spacingAndGlyphs" font-family='"Liberation Serif", serif'>1334</text>
<text x="464.7" y="787.3" font-size="17.5" fill="#2e2e2e" textLength="30.3" lengthAdjust="spacingAndGlyphs" font-family='"Liberation Serif", serif'>1.06</text>
<text x="598.9" y="787.3" font-size="17.5" fill="#2e2e2e" textLength="6.5" lengthAdjust="spacingAndGlyphs" font-family='"Liberation Serif", serif'>-</text>
<text x="59.2" y="814.2" font-size="17.5" fill="#2e2e2e" textLength="18.4" lengthAdjust="spacingAndGlyphs" font-family='"Liberation Serif", serif'>D-</text>
<text x="76.7" y="814.8" font-size="17.8" fill="#505050" font-family='"Liberation Serif", serif'>缬氨酸</text>
<text x="195.4" y="814.0" font-size="17" fill="#2e2e2e" textLength="37.0" lengthAdjust="spacingAndGlyphs" font-family='"Liberation Serif", serif'>2.580</text>
<text x="329.8" y="814.2" font-size="17.5" fill="#2e2e2e" textLength="35.6" lengthAdjust="spacingAndGlyphs" font-family='"Liberation Serif", serif'>1410</text>
<text x="464.7" y="814.2" font-size="17.5" fill="#2e2e2e" textLength="29.7" lengthAdjust="spacingAndGlyphs" font-family='"Liberation Serif", serif'>1.01</text>
<text x="598.3" y="814.2" font-size="17.5" fill="#2e2e2e" textLength="30.9" lengthAdjust="spacingAndGlyphs" font-family='"Liberation Serif", serif'>3.78</text>
<text x="52.2" y="422.5" font-size="18.5" fill="#333" font-family='"Liberation Sans", sans-serif'>注：使用长柱</text>
<text x="169.9" y="421.6" font-size="17.5" fill="#333" textLength="370.5" lengthAdjust="spacingAndGlyphs" font-family='"Liberation Serif", serif'>Chiral AAOA 5u 150*4.6mm (FMF-AAOA-EONU)</text>
<text x="540.5" y="422.5" font-size="18.5" fill="#333" font-family='"Liberation Sans", sans-serif'>，</text>
<text x="565.3" y="422.5" font-size="18.5" fill="#333" font-family='"Liberation Sans", sans-serif'>可增加保留与分离度。</text>
</svg>
</body></html>
